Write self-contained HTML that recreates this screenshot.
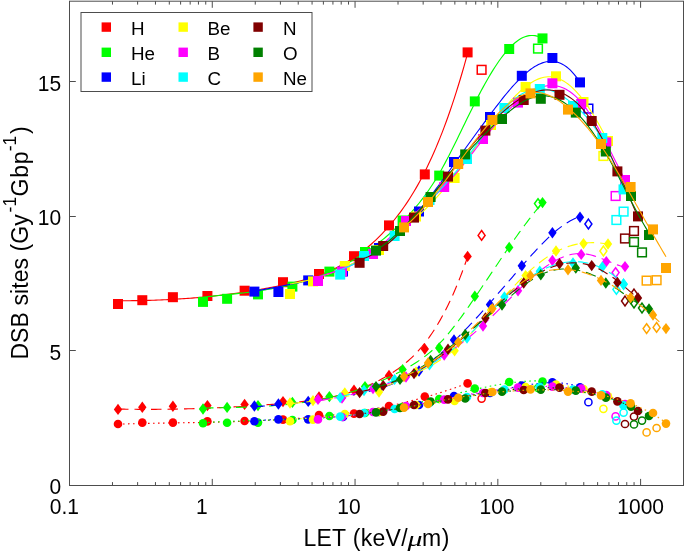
<!DOCTYPE html>
<html lang="en"><head><meta charset="utf-8"><title>DSB sites vs LET</title>
<style>html,body{margin:0;padding:0;background:#fff}svg{display:block}text{font-family:"Liberation Sans",Arial,Helvetica,sans-serif;fill:#000}</style></head><body>
<svg width="685" height="551" viewBox="0 0 685 551">
<rect width="685" height="551" fill="#fff"/>
<g id="plot">
<g id="ion-H">
<path d="M118,300.73 L120,300.74 L122,300.74 L124,300.73 L126,300.73 L128,300.72 L130,300.7 L132,300.68 L134,300.66 L136,300.63 L138,300.6 L140,300.57 L142,300.53 L144,300.49 L146,300.44 L148,300.39 L150,300.33 L152,300.27 L154,300.2 L156,300.13 L158,300.06 L160,299.98 L162,299.9 L164,299.81 L166,299.71 L168,299.62 L170,299.51 L172,299.41 L174,299.3 L176,299.18 L178,299.06 L180,298.93 L182,298.8 L184,298.66 L186,298.52 L188,298.38 L190,298.22 L192,298.07 L194,297.91 L196,297.74 L198,297.57 L200,297.39 L202,297.21 L204,297.02 L206,296.83 L208,296.63 L210,296.43 L212,296.22 L214,296 L216,295.78 L218,295.55 L220,295.32 L222,295.09 L224,294.84 L226,294.59 L228,294.34 L230,294.08 L232,293.81 L234,293.54 L236,293.27 L238,292.98 L240,292.69 L242,292.4 L244,292.1 L246,291.79 L248,291.47 L250,291.15 L252,290.83 L254,290.5 L256,290.16 L258,289.81 L260,289.46 L262,289.11 L264,288.74 L266,288.37 L268,288 L270,287.61 L272,287.22 L274,286.83 L276,286.43 L278,286.02 L280,285.6 L282,285.18 L284,284.75 L286,284.31 L288,283.87 L290,283.42 L292,282.95 L294,282.48 L296,281.99 L298,281.48 L300,280.97 L302,280.43 L304,279.88 L306,279.32 L308,278.73 L310,278.12 L312,277.49 L314,276.84 L316,276.17 L318,275.47 L320,274.75 L322,274 L324,273.22 L326,272.41 L328,271.58 L330,270.71 L332,269.81 L334,268.88 L336,267.91 L338,266.91 L340,265.87 L342,264.8 L344,263.68 L346,262.53 L348,261.34 L350,260.1 L352,258.83 L354,257.51 L356,256.14 L358,254.73 L360,253.27 L362,251.76 L364,250.21 L366,248.6 L368,246.95 L370,245.24 L372,243.48 L374,241.66 L376,239.79 L378,237.86 L380,235.87 L382,233.83 L384,231.72 L386,229.56 L388,227.33 L390,225.04 L392,222.68 L394,220.26 L396,217.76 L398,215.19 L400,212.54 L402,209.81 L404,206.99 L406,204.08 L408,201.09 L410,197.99 L412,194.8 L414,191.51 L416,188.11 L418,184.61 L420,180.99 L422,177.25 L424,173.4 L426,169.42 L428,165.33 L430,161.1 L432,156.74 L434,152.24 L436,147.61 L438,142.83 L440,137.91 L442,132.84 L444,127.62 L446,122.24 L448,116.7 L450,111.01 L452,105.14 L454,99.11 L456,92.91 L458,86.53 L460,79.97 L462,73.23 L464,66.31 L466,59.19 L467.6,53.36" fill="none" stroke="#ff0000" stroke-width="1.12"/>
<rect x="113" y="299" width="10" height="10" fill="#ff0000"/>
<rect x="137.3" y="295.2" width="10" height="10" fill="#ff0000"/>
<rect x="167.9" y="292.2" width="10" height="10" fill="#ff0000"/>
<rect x="202.4" y="291" width="10" height="10" fill="#ff0000"/>
<rect x="239.6" y="285.7" width="10" height="10" fill="#ff0000"/>
<rect x="278" y="277.2" width="10" height="10" fill="#ff0000"/>
<rect x="314" y="269" width="10" height="10" fill="#ff0000"/>
<rect x="349" y="251.2" width="10" height="10" fill="#ff0000"/>
<rect x="384" y="220.4" width="10" height="10" fill="#ff0000"/>
<rect x="419.8" y="169.4" width="10" height="10" fill="#ff0000"/>
<rect x="462.6" y="47.4" width="10" height="10" fill="#ff0000"/>
<rect x="477.25" y="65.45" width="8.7" height="8.7" fill="none" stroke="#ff0000" stroke-width="1.5"/>
<path d="M118,409.07 L120,409.1 L122,409.14 L124,409.17 L126,409.2 L128,409.23 L130,409.25 L132,409.27 L134,409.29 L136,409.3 L138,409.32 L140,409.33 L142,409.34 L144,409.34 L146,409.35 L148,409.35 L150,409.34 L152,409.34 L154,409.33 L156,409.32 L158,409.31 L160,409.29 L162,409.27 L164,409.25 L166,409.23 L168,409.2 L170,409.18 L172,409.15 L174,409.11 L176,409.08 L178,409.04 L180,409 L182,408.95 L184,408.91 L186,408.86 L188,408.81 L190,408.75 L192,408.7 L194,408.64 L196,408.57 L198,408.51 L200,408.44 L202,408.37 L204,408.3 L206,408.23 L208,408.15 L210,408.07 L212,407.99 L214,407.9 L216,407.82 L218,407.73 L220,407.64 L222,407.54 L224,407.44 L226,407.34 L228,407.24 L230,407.14 L232,407.03 L234,406.92 L236,406.81 L238,406.69 L240,406.58 L242,406.46 L244,406.33 L246,406.21 L248,406.08 L250,405.95 L252,405.82 L254,405.69 L256,405.55 L258,405.41 L260,405.27 L262,405.12 L264,404.98 L266,404.83 L268,404.68 L270,404.52 L272,404.36 L274,404.2 L276,404.04 L278,403.88 L280,403.71 L282,403.54 L284,403.37 L286,403.2 L288,403.02 L290,402.84 L292,402.65 L294,402.46 L296,402.26 L298,402.06 L300,401.85 L302,401.63 L304,401.4 L306,401.16 L308,400.91 L310,400.65 L312,400.38 L314,400.1 L316,399.81 L318,399.5 L320,399.18 L322,398.84 L324,398.49 L326,398.13 L328,397.74 L330,397.34 L332,396.93 L334,396.49 L336,396.04 L338,395.56 L340,395.07 L342,394.55 L344,394.01 L346,393.45 L348,392.87 L350,392.26 L352,391.63 L354,390.97 L356,390.29 L358,389.58 L360,388.85 L362,388.09 L364,387.3 L366,386.48 L368,385.63 L370,384.75 L372,383.84 L374,382.9 L376,381.93 L378,380.92 L380,379.88 L382,378.81 L384,377.7 L386,376.56 L388,375.38 L390,374.16 L392,372.9 L394,371.61 L396,370.26 L398,368.86 L400,367.41 L402,365.9 L404,364.32 L406,362.68 L408,360.96 L410,359.17 L412,357.3 L414,355.35 L416,353.3 L418,351.16 L420,348.93 L422,346.6 L424,344.16 L426,341.61 L428,338.95 L430,336.17 L432,333.27 L434,330.25 L436,327.1 L438,323.81 L440,320.38 L442,316.82 L444,313.1 L446,309.24 L448,305.23 L450,301.05 L452,296.71 L454,292.21 L456,287.54 L458,282.69 L460,277.66 L462,272.45 L464,267.05 L466,261.46 L467.6,256.85" fill="none" stroke="#ff0000" stroke-width="1.12" stroke-dasharray="10.5 6"/>
<path d="M118,403.7 L122.2,409.4 L118,415.1 L113.8,409.4 Z" fill="#ff0000"/>
<path d="M142.3,401.5 L146.5,407.2 L142.3,412.9 L138.1,407.2 Z" fill="#ff0000"/>
<path d="M172.9,400.5 L177.1,406.2 L172.9,411.9 L168.7,406.2 Z" fill="#ff0000"/>
<path d="M207.4,399.9 L211.6,405.6 L207.4,411.3 L203.2,405.6 Z" fill="#ff0000"/>
<path d="M244.6,398.7 L248.8,404.4 L244.6,410.1 L240.4,404.4 Z" fill="#ff0000"/>
<path d="M283,395.9 L287.2,401.6 L283,407.3 L278.8,401.6 Z" fill="#ff0000"/>
<path d="M319,391.3 L323.2,397 L319,402.7 L314.8,397 Z" fill="#ff0000"/>
<path d="M354,384.5 L358.2,390.2 L354,395.9 L349.8,390.2 Z" fill="#ff0000"/>
<path d="M389,369.7 L393.2,375.4 L389,381.1 L384.8,375.4 Z" fill="#ff0000"/>
<path d="M424.8,343.3 L429,349 L424.8,354.7 L420.6,349 Z" fill="#ff0000"/>
<path d="M467.6,250.7 L471.8,256.4 L467.6,262.1 L463.4,256.4 Z" fill="#ff0000"/>
<path d="M481.6,230.5 L485.1,235.4 L481.6,240.3 L478.1,235.4 Z" fill="none" stroke="#ff0000" stroke-width="1.5"/>
<path d="M118,424.16 L120,424.09 L122,424.03 L124,423.97 L126,423.91 L128,423.86 L130,423.8 L132,423.75 L134,423.7 L136,423.65 L138,423.6 L140,423.55 L142,423.51 L144,423.46 L146,423.42 L148,423.38 L150,423.34 L152,423.3 L154,423.26 L156,423.22 L158,423.18 L160,423.15 L162,423.11 L164,423.07 L166,423.04 L168,423 L170,422.97 L172,422.94 L174,422.9 L176,422.87 L178,422.84 L180,422.8 L182,422.77 L184,422.74 L186,422.7 L188,422.67 L190,422.64 L192,422.6 L194,422.57 L196,422.53 L198,422.49 L200,422.46 L202,422.42 L204,422.38 L206,422.34 L208,422.3 L210,422.26 L212,422.22 L214,422.18 L216,422.13 L218,422.09 L220,422.04 L222,421.99 L224,421.94 L226,421.89 L228,421.83 L230,421.78 L232,421.72 L234,421.66 L236,421.6 L238,421.54 L240,421.48 L242,421.41 L244,421.34 L246,421.27 L248,421.2 L250,421.12 L252,421.04 L254,420.96 L256,420.88 L258,420.79 L260,420.7 L262,420.61 L264,420.51 L266,420.42 L268,420.32 L270,420.21 L272,420.11 L274,420 L276,419.88 L278,419.77 L280,419.65 L282,419.52 L284,419.39 L286,419.26 L288,419.13 L290,418.99 L292,418.85 L294,418.7 L296,418.55 L298,418.4 L300,418.24 L302,418.08 L304,417.91 L306,417.74 L308,417.56 L310,417.38 L312,417.2 L314,417.01 L316,416.81 L318,416.61 L320,416.41 L322,416.2 L324,415.99 L326,415.77 L328,415.55 L330,415.32 L332,415.08 L334,414.85 L336,414.6 L338,414.35 L340,414.09 L342,413.83 L344,413.57 L346,413.29 L348,413.02 L350,412.73 L352,412.44 L354,412.15 L356,411.84 L358,411.53 L360,411.22 L362,410.9 L364,410.57 L366,410.24 L368,409.9 L370,409.55 L372,409.2 L374,408.84 L376,408.47 L378,408.1 L380,407.72 L382,407.33 L384,406.93 L386,406.53 L388,406.12 L390,405.71 L392,405.28 L394,404.85 L396,404.41 L398,403.97 L400,403.52 L402,403.05 L404,402.59 L406,402.11 L408,401.62 L410,401.13 L412,400.63 L414,400.12 L416,399.61 L418,399.08 L420,398.55 L422,398.01 L424,397.46 L426,396.9 L428,396.33 L430,395.75 L432,395.17 L434,394.58 L436,393.97 L438,393.36 L440,392.74 L442,392.11 L444,391.48 L446,390.83 L448,390.17 L450,389.51 L452,388.83 L454,388.15 L456,387.45 L458,386.75 L460,386.03 L462,385.31 L464,384.58 L466,383.83 L467.6,383.23" fill="none" stroke="#ff0000" stroke-width="1.12" stroke-dasharray="1.6 3.4"/>
<circle cx="118" cy="424" r="4.3" fill="#ff0000"/>
<circle cx="142.3" cy="422.6" r="4.3" fill="#ff0000"/>
<circle cx="172.9" cy="422.6" r="4.3" fill="#ff0000"/>
<circle cx="207.4" cy="421.4" r="4.3" fill="#ff0000"/>
<circle cx="244.6" cy="421" r="4.3" fill="#ff0000"/>
<circle cx="283" cy="419.6" r="4.3" fill="#ff0000"/>
<circle cx="319" cy="415" r="4.3" fill="#ff0000"/>
<circle cx="354" cy="413.6" r="4.3" fill="#ff0000"/>
<circle cx="389" cy="406" r="4.3" fill="#ff0000"/>
<circle cx="424.8" cy="396.6" r="4.3" fill="#ff0000"/>
<circle cx="467.6" cy="383.4" r="4.3" fill="#ff0000"/>
<circle cx="481.6" cy="398.6" r="3.6" fill="none" stroke="#ff0000" stroke-width="1.5"/>
</g>
<g id="ion-He">
<path d="M203,297.15 L205,296.94 L207,296.73 L209,296.53 L211,296.32 L213,296.12 L215,295.92 L217,295.72 L219,295.52 L221,295.32 L223,295.11 L225,294.91 L227,294.7 L229,294.49 L231,294.28 L233,294.07 L235,293.85 L237,293.63 L239,293.4 L241,293.17 L243,292.94 L245,292.7 L247,292.45 L249,292.2 L251,291.94 L253,291.67 L255,291.4 L257,291.11 L259,290.82 L261,290.52 L263,290.22 L265,289.9 L267,289.57 L269,289.23 L271,288.88 L273,288.52 L275,288.15 L277,287.76 L279,287.37 L281,286.96 L283,286.53 L285,286.1 L287,285.65 L289,285.18 L291,284.7 L293,284.2 L295,283.69 L297,283.17 L299,282.62 L301,282.06 L303,281.48 L305,280.89 L307,280.27 L309,279.64 L311,278.99 L313,278.32 L315,277.62 L317,276.91 L319,276.18 L321,275.43 L323,274.65 L325,273.86 L327,273.04 L329,272.19 L331,271.33 L333,270.44 L335,269.53 L337,268.59 L339,267.63 L341,266.64 L343,265.63 L345,264.59 L347,263.53 L349,262.44 L351,261.32 L353,260.17 L355,259 L357,257.8 L359,256.56 L361,255.3 L363,254.01 L365,252.69 L367,251.34 L369,249.96 L371,248.54 L373,247.1 L375,245.62 L377,244.11 L379,242.56 L381,240.98 L383,239.36 L385,237.71 L387,236.02 L389,234.29 L391,232.53 L393,230.73 L395,228.89 L397,227.01 L399,225.09 L401,223.13 L403,221.12 L405,219.08 L407,216.99 L409,214.85 L411,212.65 L413,210.4 L415,208.08 L417,205.7 L419,203.24 L421,200.71 L423,198.11 L425,195.41 L427,192.64 L429,189.77 L431,186.81 L433,183.75 L435,180.58 L437,177.31 L439,173.93 L441,170.43 L443,166.83 L445,163.13 L447,159.35 L449,155.49 L451,151.56 L453,147.57 L455,143.53 L457,139.46 L459,135.35 L461,131.23 L463,127.1 L465,122.97 L467,118.85 L469,114.75 L471,110.68 L473,106.65 L475,102.66 L477,98.74 L479,94.88 L481,91.09 L483,87.38 L485,83.74 L487,80.2 L489,76.74 L491,73.39 L493,70.13 L495,66.99 L497,63.96 L499,61.05 L501,58.27 L503,55.62 L505,53.1 L507,50.73 L509,48.51 L511,46.44 L513,44.53 L515,42.78 L517,41.21 L519,39.81 L521,38.6 L523,37.57 L525,36.73 L527,36.1 L529,35.66 L531,35.44 L533,35.44 L535,35.65 L537,36.09 L539,36.77 L541,37.68 L542.5,38.52" fill="none" stroke="#00ff00" stroke-width="1.12"/>
<rect x="198" y="296.9" width="10" height="10" fill="#00ff00"/>
<rect x="222.1" y="293.8" width="10" height="10" fill="#00ff00"/>
<rect x="253" y="289.4" width="10" height="10" fill="#00ff00"/>
<rect x="287.4" y="281.6" width="10" height="10" fill="#00ff00"/>
<rect x="324.4" y="266.6" width="10" height="10" fill="#00ff00"/>
<rect x="360" y="247" width="10" height="10" fill="#00ff00"/>
<rect x="397.6" y="215.5" width="10" height="10" fill="#00ff00"/>
<rect x="434.2" y="170.6" width="10" height="10" fill="#00ff00"/>
<rect x="469.8" y="96.4" width="10" height="10" fill="#00ff00"/>
<rect x="504.2" y="44" width="10" height="10" fill="#00ff00"/>
<rect x="537.5" y="33.4" width="10" height="10" fill="#00ff00"/>
<rect x="533.65" y="44.25" width="8.7" height="8.7" fill="none" stroke="#00ff00" stroke-width="1.5"/>
<path d="M203,408.05 L205,408.01 L207,407.98 L209,407.95 L211,407.92 L213,407.89 L215,407.86 L217,407.82 L219,407.79 L221,407.75 L223,407.72 L225,407.68 L227,407.64 L229,407.6 L231,407.56 L233,407.51 L235,407.46 L237,407.41 L239,407.36 L241,407.3 L243,407.23 L245,407.17 L247,407.1 L249,407.02 L251,406.95 L253,406.86 L255,406.77 L257,406.68 L259,406.58 L261,406.47 L263,406.36 L265,406.25 L267,406.12 L269,405.99 L271,405.85 L273,405.71 L275,405.56 L277,405.4 L279,405.23 L281,405.06 L283,404.87 L285,404.68 L287,404.48 L289,404.27 L291,404.05 L293,403.82 L295,403.59 L297,403.34 L299,403.08 L301,402.81 L303,402.53 L305,402.24 L307,401.94 L309,401.63 L311,401.31 L313,400.97 L315,400.62 L317,400.26 L319,399.89 L321,399.51 L323,399.11 L325,398.7 L327,398.28 L329,397.84 L331,397.39 L333,396.92 L335,396.44 L337,395.95 L339,395.44 L341,394.91 L343,394.37 L345,393.82 L347,393.25 L349,392.66 L351,392.06 L353,391.44 L355,390.81 L357,390.15 L359,389.49 L361,388.8 L363,388.09 L365,387.37 L367,386.63 L369,385.87 L371,385.1 L373,384.3 L375,383.49 L377,382.66 L379,381.81 L381,380.95 L383,380.06 L385,379.16 L387,378.24 L389,377.3 L391,376.34 L393,375.36 L395,374.37 L397,373.35 L399,372.32 L401,371.27 L403,370.2 L405,369.11 L407,368 L409,366.86 L411,365.69 L413,364.48 L415,363.24 L417,361.96 L419,360.63 L421,359.25 L423,357.82 L425,356.33 L427,354.78 L429,353.17 L431,351.49 L433,349.74 L435,347.91 L437,346 L439,344.01 L441,341.94 L443,339.78 L445,337.55 L447,335.24 L449,332.86 L451,330.41 L453,327.9 L455,325.33 L457,322.71 L459,320.03 L461,317.32 L463,314.56 L465,311.76 L467,308.93 L469,306.07 L471,303.18 L473,300.27 L475,297.35 L477,294.41 L479,291.46 L481,288.51 L483,285.54 L485,282.57 L487,279.59 L489,276.62 L491,273.64 L493,270.66 L495,267.69 L497,264.72 L499,261.76 L501,258.81 L503,255.87 L505,252.94 L507,250.03 L509,247.13 L511,244.25 L513,241.39 L515,238.55 L517,235.74 L519,232.95 L521,230.19 L523,227.45 L525,224.75 L527,222.08 L529,219.45 L531,216.85 L533,214.29 L535,211.76 L537,209.28 L539,206.85 L541,204.46 L542.5,202.7" fill="none" stroke="#00ff00" stroke-width="1.12" stroke-dasharray="10.5 6"/>
<path d="M203,403.3 L207.2,409 L203,414.7 L198.8,409 Z" fill="#00ff00"/>
<path d="M227.1,401.7 L231.3,407.4 L227.1,413.1 L222.9,407.4 Z" fill="#00ff00"/>
<path d="M258,399.9 L262.2,405.6 L258,411.3 L253.8,405.6 Z" fill="#00ff00"/>
<path d="M292.4,396.7 L296.6,402.4 L292.4,408.1 L288.2,402.4 Z" fill="#00ff00"/>
<path d="M329.4,390.9 L333.6,396.6 L329.4,402.3 L325.2,396.6 Z" fill="#00ff00"/>
<path d="M365,380.9 L369.2,386.6 L365,392.3 L360.8,386.6 Z" fill="#00ff00"/>
<path d="M402.6,363.9 L406.8,369.6 L402.6,375.3 L398.4,369.6 Z" fill="#00ff00"/>
<path d="M439.2,342.3 L443.4,348 L439.2,353.7 L435,348 Z" fill="#00ff00"/>
<path d="M474.8,290.6 L479,296.3 L474.8,302 L470.6,296.3 Z" fill="#00ff00"/>
<path d="M509.2,241.7 L513.4,247.4 L509.2,253.1 L505,247.4 Z" fill="#00ff00"/>
<path d="M542.5,196.9 L546.7,202.6 L542.5,208.3 L538.3,202.6 Z" fill="#00ff00"/>
<path d="M538,198.7 L541.5,203.6 L538,208.5 L534.5,203.6 Z" fill="none" stroke="#00ff00" stroke-width="1.5"/>
<path d="M203,422.79 L205,422.65 L207,422.51 L209,422.38 L211,422.26 L213,422.14 L215,422.03 L217,421.92 L219,421.81 L221,421.71 L223,421.62 L225,421.52 L227,421.43 L229,421.35 L231,421.27 L233,421.19 L235,421.12 L237,421.04 L239,420.97 L241,420.91 L243,420.84 L245,420.78 L247,420.72 L249,420.66 L251,420.6 L253,420.54 L255,420.49 L257,420.43 L259,420.38 L261,420.33 L263,420.27 L265,420.22 L267,420.17 L269,420.12 L271,420.06 L273,420.01 L275,419.95 L277,419.9 L279,419.84 L281,419.78 L283,419.72 L285,419.66 L287,419.59 L289,419.52 L291,419.46 L293,419.38 L295,419.31 L297,419.23 L299,419.15 L301,419.07 L303,418.98 L305,418.89 L307,418.79 L309,418.69 L311,418.59 L313,418.48 L315,418.37 L317,418.25 L319,418.13 L321,418 L323,417.86 L325,417.72 L327,417.58 L329,417.43 L331,417.27 L333,417.1 L335,416.93 L337,416.75 L339,416.57 L341,416.37 L343,416.17 L345,415.97 L347,415.75 L349,415.53 L351,415.29 L353,415.05 L355,414.81 L357,414.55 L359,414.28 L361,414 L363,413.72 L365,413.42 L367,413.12 L369,412.8 L371,412.48 L373,412.15 L375,411.8 L377,411.45 L379,411.1 L381,410.73 L383,410.36 L385,409.97 L387,409.59 L389,409.19 L391,408.79 L393,408.38 L395,407.96 L397,407.54 L399,407.12 L401,406.69 L403,406.25 L405,405.81 L407,405.36 L409,404.91 L411,404.46 L413,404 L415,403.54 L417,403.07 L419,402.61 L421,402.14 L423,401.66 L425,401.19 L427,400.71 L429,400.23 L431,399.75 L433,399.27 L435,398.79 L437,398.31 L439,397.83 L441,397.35 L443,396.86 L445,396.38 L447,395.9 L449,395.42 L451,394.94 L453,394.46 L455,393.99 L457,393.52 L459,393.04 L461,392.58 L463,392.11 L465,391.65 L467,391.19 L469,390.73 L471,390.28 L473,389.84 L475,389.39 L477,388.96 L479,388.52 L481,388.1 L483,387.68 L485,387.26 L487,386.86 L489,386.46 L491,386.07 L493,385.69 L495,385.32 L497,384.96 L499,384.61 L501,384.28 L503,383.95 L505,383.64 L507,383.34 L509,383.06 L511,382.79 L513,382.54 L515,382.3 L517,382.07 L519,381.87 L521,381.68 L523,381.51 L525,381.36 L527,381.22 L529,381.11 L531,381.01 L533,380.94 L535,380.89 L537,380.86 L539,380.85 L541,380.87 L542.5,380.9" fill="none" stroke="#00ff00" stroke-width="1.12" stroke-dasharray="1.6 3.4"/>
<circle cx="203" cy="423.2" r="4.3" fill="#00ff00"/>
<circle cx="227.1" cy="422.8" r="4.3" fill="#00ff00"/>
<circle cx="258" cy="422.6" r="4.3" fill="#00ff00"/>
<circle cx="292.4" cy="420" r="4.3" fill="#00ff00"/>
<circle cx="329.4" cy="416" r="4.3" fill="#00ff00"/>
<circle cx="365" cy="413" r="4.3" fill="#00ff00"/>
<circle cx="402.6" cy="407" r="4.3" fill="#00ff00"/>
<circle cx="439.2" cy="399" r="4.3" fill="#00ff00"/>
<circle cx="474.8" cy="388.6" r="4.3" fill="#00ff00"/>
<circle cx="509.2" cy="382" r="4.3" fill="#00ff00"/>
<circle cx="542.5" cy="381.6" r="4.3" fill="#00ff00"/>
<circle cx="538" cy="388" r="3.6" fill="none" stroke="#00ff00" stroke-width="1.5"/>
</g>
<g id="ion-Li">
<path d="M254.4,291.26 L256.4,290.88 L258.4,290.5 L260.4,290.13 L262.4,289.75 L264.4,289.38 L266.4,289.01 L268.4,288.63 L270.4,288.26 L272.4,287.88 L274.4,287.51 L276.4,287.13 L278.4,286.75 L280.4,286.36 L282.4,285.97 L284.4,285.57 L286.4,285.17 L288.4,284.76 L290.4,284.34 L292.4,283.91 L294.4,283.48 L296.4,283.03 L298.4,282.58 L300.4,282.12 L302.4,281.64 L304.4,281.15 L306.4,280.65 L308.4,280.13 L310.4,279.6 L312.4,279.06 L314.4,278.5 L316.4,277.92 L318.4,277.33 L320.4,276.72 L322.4,276.09 L324.4,275.44 L326.4,274.77 L328.4,274.09 L330.4,273.38 L332.4,272.65 L334.4,271.89 L336.4,271.12 L338.4,270.32 L340.4,269.49 L342.4,268.64 L344.4,267.77 L346.4,266.87 L348.4,265.94 L350.4,264.98 L352.4,264 L354.4,262.98 L356.4,261.94 L358.4,260.87 L360.4,259.76 L362.4,258.62 L364.4,257.45 L366.4,256.25 L368.4,255.02 L370.4,253.74 L372.4,252.44 L374.4,251.1 L376.4,249.72 L378.4,248.3 L380.4,246.85 L382.4,245.36 L384.4,243.82 L386.4,242.25 L388.4,240.64 L390.4,238.99 L392.4,237.29 L394.4,235.55 L396.4,233.77 L398.4,231.95 L400.4,230.08 L402.4,228.16 L404.4,226.2 L406.4,224.19 L408.4,222.14 L410.4,220.03 L412.4,217.88 L414.4,215.68 L416.4,213.43 L418.4,211.13 L420.4,208.77 L422.4,206.37 L424.4,203.92 L426.4,201.43 L428.4,198.89 L430.4,196.32 L432.4,193.72 L434.4,191.08 L436.4,188.42 L438.4,185.73 L440.4,183.01 L442.4,180.28 L444.4,177.53 L446.4,174.77 L448.4,172 L450.4,169.22 L452.4,166.44 L454.4,163.66 L456.4,160.87 L458.4,158.09 L460.4,155.31 L462.4,152.54 L464.4,149.77 L466.4,147 L468.4,144.24 L470.4,141.48 L472.4,138.73 L474.4,135.99 L476.4,133.25 L478.4,130.52 L480.4,127.8 L482.4,125.08 L484.4,122.38 L486.4,119.68 L488.4,117 L490.4,114.32 L492.4,111.66 L494.4,109.01 L496.4,106.39 L498.4,103.79 L500.4,101.23 L502.4,98.69 L504.4,96.2 L506.4,93.76 L508.4,91.36 L510.4,89.01 L512.4,86.73 L514.4,84.5 L516.4,82.35 L518.4,80.27 L520.4,78.26 L522.4,76.34 L524.4,74.5 L526.4,72.76 L528.4,71.11 L530.4,69.57 L532.4,68.14 L534.4,66.83 L536.4,65.64 L538.4,64.58 L540.4,63.66 L542.4,62.88 L544.4,62.24 L546.4,61.76 L548.4,61.44 L550.4,61.28 L552.4,61.3 L554.4,61.49 L556.4,61.87 L558.4,62.44 L560.4,63.21 L562.4,64.18 L564.4,65.35 L566.4,66.74 L568.4,68.36 L570.4,70.19 L572.4,72.27 L574.4,74.58 L576.4,77.14 L578.4,79.95 L580,82.38" fill="none" stroke="#0000ff" stroke-width="1.12"/>
<rect x="249.4" y="286.6" width="10" height="10" fill="#0000ff"/>
<rect x="273.4" y="287" width="10" height="10" fill="#0000ff"/>
<rect x="303.2" y="275.4" width="10" height="10" fill="#0000ff"/>
<rect x="338" y="266.5" width="10" height="10" fill="#0000ff"/>
<rect x="374" y="243" width="10" height="10" fill="#0000ff"/>
<rect x="414" y="206.5" width="10" height="10" fill="#0000ff"/>
<rect x="449" y="157" width="10" height="10" fill="#0000ff"/>
<rect x="485" y="112" width="10" height="10" fill="#0000ff"/>
<rect x="516.8" y="70.8" width="10" height="10" fill="#0000ff"/>
<rect x="547.4" y="53" width="10" height="10" fill="#0000ff"/>
<rect x="575" y="77.4" width="10" height="10" fill="#0000ff"/>
<rect x="584.05" y="104.25" width="8.7" height="8.7" fill="none" stroke="#0000ff" stroke-width="1.5"/>
<path d="M254.4,406.74 L256.4,406.61 L258.4,406.47 L260.4,406.33 L262.4,406.18 L264.4,406.03 L266.4,405.88 L268.4,405.72 L270.4,405.56 L272.4,405.39 L274.4,405.22 L276.4,405.04 L278.4,404.87 L280.4,404.68 L282.4,404.5 L284.4,404.3 L286.4,404.11 L288.4,403.91 L290.4,403.7 L292.4,403.5 L294.4,403.28 L296.4,403.06 L298.4,402.84 L300.4,402.61 L302.4,402.38 L304.4,402.14 L306.4,401.9 L308.4,401.66 L310.4,401.41 L312.4,401.15 L314.4,400.89 L316.4,400.62 L318.4,400.35 L320.4,400.08 L322.4,399.79 L324.4,399.51 L326.4,399.22 L328.4,398.92 L330.4,398.62 L332.4,398.31 L334.4,398 L336.4,397.68 L338.4,397.36 L340.4,397.03 L342.4,396.69 L344.4,396.35 L346.4,396.01 L348.4,395.65 L350.4,395.29 L352.4,394.92 L354.4,394.54 L356.4,394.14 L358.4,393.74 L360.4,393.32 L362.4,392.88 L364.4,392.43 L366.4,391.96 L368.4,391.48 L370.4,390.97 L372.4,390.45 L374.4,389.91 L376.4,389.34 L378.4,388.75 L380.4,388.14 L382.4,387.5 L384.4,386.83 L386.4,386.14 L388.4,385.42 L390.4,384.67 L392.4,383.89 L394.4,383.08 L396.4,382.24 L398.4,381.36 L400.4,380.45 L402.4,379.5 L404.4,378.51 L406.4,377.49 L408.4,376.43 L410.4,375.33 L412.4,374.19 L414.4,373.01 L416.4,371.78 L418.4,370.51 L420.4,369.2 L422.4,367.84 L424.4,366.44 L426.4,364.99 L428.4,363.5 L430.4,361.98 L432.4,360.41 L434.4,358.81 L436.4,357.16 L438.4,355.48 L440.4,353.77 L442.4,352.02 L444.4,350.24 L446.4,348.42 L448.4,346.58 L450.4,344.7 L452.4,342.79 L454.4,340.86 L456.4,338.9 L458.4,336.91 L460.4,334.9 L462.4,332.86 L464.4,330.8 L466.4,328.72 L468.4,326.61 L470.4,324.49 L472.4,322.34 L474.4,320.18 L476.4,318 L478.4,315.81 L480.4,313.6 L482.4,311.37 L484.4,309.14 L486.4,306.89 L488.4,304.63 L490.4,302.36 L492.4,300.08 L494.4,297.79 L496.4,295.5 L498.4,293.2 L500.4,290.89 L502.4,288.58 L504.4,286.27 L506.4,283.95 L508.4,281.64 L510.4,279.32 L512.4,277.01 L514.4,274.7 L516.4,272.39 L518.4,270.08 L520.4,267.78 L522.4,265.49 L524.4,263.21 L526.4,260.93 L528.4,258.67 L530.4,256.43 L532.4,254.21 L534.4,252.02 L536.4,249.86 L538.4,247.72 L540.4,245.63 L542.4,243.57 L544.4,241.55 L546.4,239.58 L548.4,237.66 L550.4,235.79 L552.4,233.98 L554.4,232.23 L556.4,230.54 L558.4,228.91 L560.4,227.36 L562.4,225.88 L564.4,224.48 L566.4,223.15 L568.4,221.91 L570.4,220.76 L572.4,219.7 L574.4,218.73 L576.4,217.86 L578.4,217.09 L580,216.55" fill="none" stroke="#0000ff" stroke-width="1.12" stroke-dasharray="10.5 6"/>
<path d="M254.4,400.3 L258.6,406 L254.4,411.7 L250.2,406 Z" fill="#0000ff"/>
<path d="M278.4,398.3 L282.6,404 L278.4,409.7 L274.2,404 Z" fill="#0000ff"/>
<path d="M308.2,395.7 L312.4,401.4 L308.2,407.1 L304,401.4 Z" fill="#0000ff"/>
<path d="M343,390.3 L347.2,396 L343,401.7 L338.8,396 Z" fill="#0000ff"/>
<path d="M379,383.3 L383.2,389 L379,394.7 L374.8,389 Z" fill="#0000ff"/>
<path d="M419,365.3 L423.2,371 L419,376.7 L414.8,371 Z" fill="#0000ff"/>
<path d="M454,334.3 L458.2,340 L454,345.7 L449.8,340 Z" fill="#0000ff"/>
<path d="M490,298.9 L494.2,304.6 L490,310.3 L485.8,304.6 Z" fill="#0000ff"/>
<path d="M521.8,260.1 L526,265.8 L521.8,271.5 L517.6,265.8 Z" fill="#0000ff"/>
<path d="M552.4,227.1 L556.6,232.8 L552.4,238.5 L548.2,232.8 Z" fill="#0000ff"/>
<path d="M580,211.5 L584.2,217.2 L580,222.9 L575.8,217.2 Z" fill="#0000ff"/>
<path d="M588.4,219.1 L591.9,224 L588.4,228.9 L584.9,224 Z" fill="none" stroke="#0000ff" stroke-width="1.5"/>
<path d="M254.4,420.76 L256.4,420.61 L258.4,420.47 L260.4,420.34 L262.4,420.21 L264.4,420.09 L266.4,419.98 L268.4,419.87 L270.4,419.76 L272.4,419.66 L274.4,419.57 L276.4,419.48 L278.4,419.39 L280.4,419.3 L282.4,419.22 L284.4,419.14 L286.4,419.06 L288.4,418.99 L290.4,418.91 L292.4,418.84 L294.4,418.76 L296.4,418.69 L298.4,418.62 L300.4,418.54 L302.4,418.47 L304.4,418.39 L306.4,418.31 L308.4,418.23 L310.4,418.15 L312.4,418.06 L314.4,417.97 L316.4,417.88 L318.4,417.78 L320.4,417.68 L322.4,417.58 L324.4,417.47 L326.4,417.35 L328.4,417.23 L330.4,417.1 L332.4,416.97 L334.4,416.83 L336.4,416.68 L338.4,416.52 L340.4,416.36 L342.4,416.19 L344.4,416 L346.4,415.81 L348.4,415.62 L350.4,415.41 L352.4,415.19 L354.4,414.97 L356.4,414.74 L358.4,414.5 L360.4,414.25 L362.4,414 L364.4,413.74 L366.4,413.47 L368.4,413.2 L370.4,412.91 L372.4,412.62 L374.4,412.33 L376.4,412.03 L378.4,411.72 L380.4,411.41 L382.4,411.09 L384.4,410.76 L386.4,410.43 L388.4,410.1 L390.4,409.75 L392.4,409.41 L394.4,409.06 L396.4,408.7 L398.4,408.34 L400.4,407.98 L402.4,407.61 L404.4,407.24 L406.4,406.86 L408.4,406.48 L410.4,406.1 L412.4,405.71 L414.4,405.32 L416.4,404.93 L418.4,404.53 L420.4,404.13 L422.4,403.73 L424.4,403.33 L426.4,402.93 L428.4,402.52 L430.4,402.12 L432.4,401.71 L434.4,401.31 L436.4,400.91 L438.4,400.51 L440.4,400.12 L442.4,399.73 L444.4,399.34 L446.4,398.96 L448.4,398.58 L450.4,398.21 L452.4,397.85 L454.4,397.49 L456.4,397.14 L458.4,396.8 L460.4,396.46 L462.4,396.13 L464.4,395.8 L466.4,395.48 L468.4,395.16 L470.4,394.84 L472.4,394.52 L474.4,394.2 L476.4,393.88 L478.4,393.57 L480.4,393.24 L482.4,392.92 L484.4,392.59 L486.4,392.26 L488.4,391.92 L490.4,391.58 L492.4,391.23 L494.4,390.88 L496.4,390.52 L498.4,390.16 L500.4,389.79 L502.4,389.42 L504.4,389.05 L506.4,388.68 L508.4,388.31 L510.4,387.94 L512.4,387.57 L514.4,387.2 L516.4,386.84 L518.4,386.48 L520.4,386.13 L522.4,385.78 L524.4,385.44 L526.4,385.11 L528.4,384.79 L530.4,384.48 L532.4,384.19 L534.4,383.91 L536.4,383.66 L538.4,383.43 L540.4,383.22 L542.4,383.03 L544.4,382.88 L546.4,382.76 L548.4,382.67 L550.4,382.61 L552.4,382.59 L554.4,382.61 L556.4,382.67 L558.4,382.78 L560.4,382.93 L562.4,383.13 L564.4,383.37 L566.4,383.67 L568.4,384.03 L570.4,384.44 L572.4,384.91 L574.4,385.44 L576.4,386.03 L578.4,386.68 L580,387.26" fill="none" stroke="#0000ff" stroke-width="1.12" stroke-dasharray="1.6 3.4"/>
<circle cx="254.4" cy="421.2" r="4.3" fill="#0000ff"/>
<circle cx="278.4" cy="419.4" r="4.3" fill="#0000ff"/>
<circle cx="308.2" cy="419.4" r="4.3" fill="#0000ff"/>
<circle cx="343" cy="417" r="4.3" fill="#0000ff"/>
<circle cx="379" cy="412" r="4.3" fill="#0000ff"/>
<circle cx="419" cy="405" r="4.3" fill="#0000ff"/>
<circle cx="454" cy="396" r="4.3" fill="#0000ff"/>
<circle cx="490" cy="393" r="4.3" fill="#0000ff"/>
<circle cx="521.8" cy="385.6" r="4.3" fill="#0000ff"/>
<circle cx="552.4" cy="382.3" r="4.3" fill="#0000ff"/>
<circle cx="580" cy="387.4" r="4.3" fill="#0000ff"/>
<circle cx="588.4" cy="402.2" r="3.6" fill="none" stroke="#0000ff" stroke-width="1.5"/>
</g>
<g id="ion-Be">
<path d="M290,284.07 L292,283.7 L294,283.32 L296,282.92 L298,282.51 L300,282.08 L302,281.63 L304,281.16 L306,280.68 L308,280.18 L310,279.67 L312,279.13 L314,278.58 L316,278 L318,277.41 L320,276.8 L322,276.17 L324,275.51 L326,274.84 L328,274.14 L330,273.43 L332,272.69 L334,271.93 L336,271.15 L338,270.34 L340,269.51 L342,268.66 L344,267.78 L346,266.88 L348,265.96 L350,265.01 L352,264.03 L354,263.03 L356,262.01 L358,260.95 L360,259.87 L362,258.76 L364,257.63 L366,256.47 L368,255.28 L370,254.06 L372,252.81 L374,251.53 L376,250.23 L378,248.89 L380,247.53 L382,246.13 L384,244.7 L386,243.25 L388,241.76 L390,240.25 L392,238.71 L394,237.14 L396,235.54 L398,233.92 L400,232.27 L402,230.59 L404,228.89 L406,227.16 L408,225.41 L410,223.63 L412,221.82 L414,220 L416,218.15 L418,216.27 L420,214.38 L422,212.45 L424,210.5 L426,208.52 L428,206.51 L430,204.47 L432,202.4 L434,200.29 L436,198.14 L438,195.96 L440,193.74 L442,191.49 L444,189.19 L446,186.84 L448,184.46 L450,182.03 L452,179.55 L454,177.02 L456,174.45 L458,171.83 L460,169.16 L462,166.46 L464,163.73 L466,160.96 L468,158.17 L470,155.37 L472,152.54 L474,149.7 L476,146.86 L478,144.01 L480,141.17 L482,138.33 L484,135.5 L486,132.69 L488,129.9 L490,127.13 L492,124.38 L494,121.67 L496,119 L498,116.37 L500,113.78 L502,111.25 L504,108.76 L506,106.34 L508,103.98 L510,101.69 L512,99.47 L514,97.32 L516,95.26 L518,93.28 L520,91.39 L522,89.6 L524,87.9 L526,86.31 L528,84.82 L530,83.44 L532,82.18 L534,81.04 L536,80.03 L538,79.14 L540,78.39 L542,77.78 L544,77.3 L546,76.98 L548,76.8 L550,76.78 L552,76.92 L554,77.23 L556,77.7 L558,78.35 L560,79.16 L562,80.14 L564,81.29 L566,82.59 L568,84.05 L570,85.67 L572,87.44 L574,89.35 L576,91.42 L578,93.62 L580,95.96 L582,98.44 L584,101.05 L586,103.79 L588,106.65 L590,109.64 L592,112.75 L594,115.98 L596,119.32 L598,122.77 L600,126.33 L602,129.99 L604,133.75 L606,137.61 L608,141.57" fill="none" stroke="#ffff00" stroke-width="1.12"/>
<rect x="285" y="289" width="10" height="10" fill="#ffff00"/>
<rect x="308" y="276.4" width="10" height="10" fill="#ffff00"/>
<rect x="339.8" y="261" width="10" height="10" fill="#ffff00"/>
<rect x="374" y="245" width="10" height="10" fill="#ffff00"/>
<rect x="411" y="211.5" width="10" height="10" fill="#ffff00"/>
<rect x="449.6" y="173" width="10" height="10" fill="#ffff00"/>
<rect x="486" y="120" width="10" height="10" fill="#ffff00"/>
<rect x="520.6" y="82" width="10" height="10" fill="#ffff00"/>
<rect x="551" y="71.3" width="10" height="10" fill="#ffff00"/>
<rect x="578.5" y="97" width="10" height="10" fill="#ffff00"/>
<rect x="603" y="136" width="10" height="10" fill="#ffff00"/>
<rect x="599.05" y="151.65" width="8.7" height="8.7" fill="none" stroke="#ffff00" stroke-width="1.5"/>
<path d="M290,403.9 L292,403.65 L294,403.4 L296,403.16 L298,402.92 L300,402.68 L302,402.45 L304,402.21 L306,401.98 L308,401.74 L310,401.51 L312,401.27 L314,401.03 L316,400.78 L318,400.54 L320,400.29 L322,400.03 L324,399.77 L326,399.5 L328,399.23 L330,398.95 L332,398.67 L334,398.37 L336,398.07 L338,397.75 L340,397.43 L342,397.1 L344,396.75 L346,396.4 L348,396.03 L350,395.65 L352,395.25 L354,394.84 L356,394.42 L358,393.98 L360,393.53 L362,393.06 L364,392.57 L366,392.06 L368,391.54 L370,391 L372,390.44 L374,389.85 L376,389.25 L378,388.63 L380,387.98 L382,387.32 L384,386.63 L386,385.92 L388,385.19 L390,384.44 L392,383.68 L394,382.89 L396,382.09 L398,381.27 L400,380.44 L402,379.59 L404,378.72 L406,377.84 L408,376.95 L410,376.04 L412,375.12 L414,374.19 L416,373.24 L418,372.29 L420,371.32 L422,370.33 L424,369.33 L426,368.3 L428,367.25 L430,366.17 L432,365.05 L434,363.91 L436,362.72 L438,361.5 L440,360.23 L442,358.92 L444,357.55 L446,356.14 L448,354.67 L450,353.14 L452,351.55 L454,349.9 L456,348.18 L458,346.4 L460,344.56 L462,342.66 L464,340.7 L466,338.7 L468,336.66 L470,334.57 L472,332.45 L474,330.29 L476,328.11 L478,325.9 L480,323.67 L482,321.43 L484,319.17 L486,316.91 L488,314.64 L490,312.37 L492,310.11 L494,307.85 L496,305.6 L498,303.36 L500,301.14 L502,298.93 L504,296.73 L506,294.56 L508,292.4 L510,290.27 L512,288.16 L514,286.08 L516,284.03 L518,282 L520,280.01 L522,278.05 L524,276.13 L526,274.25 L528,272.4 L530,270.6 L532,268.84 L534,267.12 L536,265.46 L538,263.84 L540,262.27 L542,260.76 L544,259.3 L546,257.89 L548,256.55 L550,255.26 L552,254.04 L554,252.88 L556,251.78 L558,250.76 L560,249.8 L562,248.9 L564,248.07 L566,247.3 L568,246.6 L570,245.95 L572,245.37 L574,244.85 L576,244.38 L578,243.98 L580,243.63 L582,243.33 L584,243.09 L586,242.91 L588,242.77 L590,242.69 L592,242.66 L594,242.68 L596,242.75 L598,242.86 L600,243.02 L602,243.23 L604,243.48 L606,243.78 L608,244.12" fill="none" stroke="#ffff00" stroke-width="1.12" stroke-dasharray="10.5 6"/>
<path d="M290,397.3 L294.2,403 L290,408.7 L285.8,403 Z" fill="#ffff00"/>
<path d="M313,394.9 L317.2,400.6 L313,406.3 L308.8,400.6 Z" fill="#ffff00"/>
<path d="M344.8,387.3 L349,393 L344.8,398.7 L340.6,393 Z" fill="#ffff00"/>
<path d="M379,386.3 L383.2,392 L379,397.7 L374.8,392 Z" fill="#ffff00"/>
<path d="M416,366.3 L420.2,372 L416,377.7 L411.8,372 Z" fill="#ffff00"/>
<path d="M454.6,345.1 L458.8,350.8 L454.6,356.5 L450.4,350.8 Z" fill="#ffff00"/>
<path d="M491,304.3 L495.2,310 L491,315.7 L486.8,310 Z" fill="#ffff00"/>
<path d="M525.6,269.9 L529.8,275.6 L525.6,281.3 L521.4,275.6 Z" fill="#ffff00"/>
<path d="M556,245.3 L560.2,251 L556,256.7 L551.8,251 Z" fill="#ffff00"/>
<path d="M583.5,237.9 L587.7,243.6 L583.5,249.3 L579.3,243.6 Z" fill="#ffff00"/>
<path d="M608,238.3 L612.2,244 L608,249.7 L603.8,244 Z" fill="#ffff00"/>
<path d="M603.4,246.1 L606.9,251 L603.4,255.9 L599.9,251 Z" fill="none" stroke="#ffff00" stroke-width="1.5"/>
<path d="M290,419.01 L292,418.95 L294,418.89 L296,418.82 L298,418.74 L300,418.66 L302,418.57 L304,418.48 L306,418.38 L308,418.27 L310,418.16 L312,418.05 L314,417.93 L316,417.8 L318,417.67 L320,417.53 L322,417.39 L324,417.25 L326,417.1 L328,416.94 L330,416.78 L332,416.62 L334,416.45 L336,416.28 L338,416.1 L340,415.92 L342,415.73 L344,415.54 L346,415.35 L348,415.15 L350,414.94 L352,414.74 L354,414.53 L356,414.32 L358,414.1 L360,413.88 L362,413.65 L364,413.43 L366,413.2 L368,412.96 L370,412.73 L372,412.49 L374,412.24 L376,412 L378,411.75 L380,411.5 L382,411.24 L384,410.98 L386,410.72 L388,410.46 L390,410.19 L392,409.93 L394,409.65 L396,409.38 L398,409.1 L400,408.82 L402,408.53 L404,408.24 L406,407.95 L408,407.66 L410,407.36 L412,407.05 L414,406.75 L416,406.44 L418,406.12 L420,405.81 L422,405.48 L424,405.16 L426,404.83 L428,404.5 L430,404.16 L432,403.82 L434,403.47 L436,403.12 L438,402.77 L440,402.41 L442,402.04 L444,401.68 L446,401.3 L448,400.93 L450,400.55 L452,400.16 L454,399.77 L456,399.37 L458,398.97 L460,398.57 L462,398.16 L464,397.75 L466,397.34 L468,396.93 L470,396.51 L472,396.1 L474,395.68 L476,395.26 L478,394.85 L480,394.44 L482,394.03 L484,393.62 L486,393.21 L488,392.81 L490,392.42 L492,392.02 L494,391.64 L496,391.26 L498,390.88 L500,390.52 L502,390.16 L504,389.81 L506,389.47 L508,389.13 L510,388.81 L512,388.5 L514,388.19 L516,387.9 L518,387.63 L520,387.36 L522,387.11 L524,386.87 L526,386.64 L528,386.43 L530,386.24 L532,386.06 L534,385.89 L536,385.75 L538,385.62 L540,385.51 L542,385.42 L544,385.34 L546,385.29 L548,385.26 L550,385.25 L552,385.25 L554,385.29 L556,385.34 L558,385.42 L560,385.51 L562,385.64 L564,385.79 L566,385.96 L568,386.16 L570,386.38 L572,386.64 L574,386.92 L576,387.22 L578,387.56 L580,387.92 L582,388.32 L584,388.74 L586,389.2 L588,389.68 L590,390.2 L592,390.75 L594,391.33 L596,391.95 L598,392.6 L600,393.28 L602,394 L604,394.76 L606,395.55 L608,396.37" fill="none" stroke="#ffff00" stroke-width="1.12" stroke-dasharray="1.6 3.4"/>
<circle cx="290" cy="421.2" r="4.3" fill="#ffff00"/>
<circle cx="313" cy="419.6" r="4.3" fill="#ffff00"/>
<circle cx="344.8" cy="414" r="4.3" fill="#ffff00"/>
<circle cx="379" cy="412" r="4.3" fill="#ffff00"/>
<circle cx="416" cy="405" r="4.3" fill="#ffff00"/>
<circle cx="454.6" cy="401" r="4.3" fill="#ffff00"/>
<circle cx="491" cy="392" r="4.3" fill="#ffff00"/>
<circle cx="525.6" cy="387" r="4.3" fill="#ffff00"/>
<circle cx="556" cy="384.5" r="4.3" fill="#ffff00"/>
<circle cx="583.5" cy="389" r="4.3" fill="#ffff00"/>
<circle cx="608" cy="396.4" r="4.3" fill="#ffff00"/>
<circle cx="603.4" cy="408.8" r="3.6" fill="none" stroke="#ffff00" stroke-width="1.5"/>
</g>
<g id="ion-B">
<path d="M318,277 L320,276.34 L322,275.7 L324,275.06 L326,274.43 L328,273.8 L330,273.16 L332,272.52 L334,271.87 L336,271.21 L338,270.53 L340,269.83 L342,269.11 L344,268.36 L346,267.58 L348,266.77 L350,265.93 L352,265.04 L354,264.11 L356,263.13 L358,262.11 L360,261.03 L362,259.89 L364,258.7 L366,257.44 L368,256.12 L370,254.73 L372,253.26 L374,251.72 L376,250.1 L378,248.42 L380,246.67 L382,244.87 L384,243.03 L386,241.14 L388,239.23 L390,237.28 L392,235.32 L394,233.34 L396,231.36 L398,229.38 L400,227.41 L402,225.45 L404,223.52 L406,221.62 L408,219.75 L410,217.91 L412,216.1 L414,214.31 L416,212.53 L418,210.77 L420,209.02 L422,207.26 L424,205.51 L426,203.74 L428,201.97 L430,200.17 L432,198.35 L434,196.51 L436,194.63 L438,192.72 L440,190.76 L442,188.76 L444,186.7 L446,184.59 L448,182.43 L450,180.21 L452,177.95 L454,175.65 L456,173.3 L458,170.92 L460,168.51 L462,166.07 L464,163.61 L466,161.12 L468,158.62 L470,156.11 L472,153.58 L474,151.05 L476,148.52 L478,145.99 L480,143.46 L482,140.94 L484,138.44 L486,135.95 L488,133.48 L490,131.04 L492,128.62 L494,126.23 L496,123.87 L498,121.55 L500,119.27 L502,117.04 L504,114.85 L506,112.71 L508,110.63 L510,108.6 L512,106.64 L514,104.74 L516,102.91 L518,101.15 L520,99.46 L522,97.85 L524,96.33 L526,94.89 L528,93.53 L530,92.28 L532,91.11 L534,90.05 L536,89.08 L538,88.23 L540,87.48 L542,86.85 L544,86.33 L546,85.93 L548,85.66 L550,85.51 L552,85.49 L554,85.61 L556,85.86 L558,86.25 L560,86.79 L562,87.47 L564,88.31 L566,89.3 L568,90.45 L570,91.76 L572,93.23 L574,94.87 L576,96.69 L578,98.67 L580,100.84 L582,103.19 L584,105.72 L586,108.42 L588,111.27 L590,114.28 L592,117.42 L594,120.69 L596,124.08 L598,127.58 L600,131.17 L602,134.85 L604,138.6 L606,142.42 L608,146.3 L610,150.21 L612,154.17 L614,158.14 L616,162.13 L618,166.12 L620,170.1 L622,174.07 L624,178 L625,179.96" fill="none" stroke="#ff00ff" stroke-width="1.12"/>
<rect x="313" y="276" width="10" height="10" fill="#ff00ff"/>
<rect x="337" y="266.6" width="10" height="10" fill="#ff00ff"/>
<rect x="368" y="249" width="10" height="10" fill="#ff00ff"/>
<rect x="401" y="216" width="10" height="10" fill="#ff00ff"/>
<rect x="439.2" y="182" width="10" height="10" fill="#ff00ff"/>
<rect x="478" y="134" width="10" height="10" fill="#ff00ff"/>
<rect x="513" y="97.6" width="10" height="10" fill="#ff00ff"/>
<rect x="547.4" y="78.3" width="10" height="10" fill="#ff00ff"/>
<rect x="576.2" y="99" width="10" height="10" fill="#ff00ff"/>
<rect x="601.3" y="137.4" width="10" height="10" fill="#ff00ff"/>
<rect x="620" y="175" width="10" height="10" fill="#ff00ff"/>
<rect x="611.25" y="191.65" width="8.7" height="8.7" fill="none" stroke="#ff00ff" stroke-width="1.5"/>
<path d="M318,400.83 L320,400.52 L322,400.2 L324,399.87 L326,399.53 L328,399.19 L330,398.84 L332,398.48 L334,398.11 L336,397.73 L338,397.34 L340,396.94 L342,396.54 L344,396.12 L346,395.69 L348,395.25 L350,394.8 L352,394.33 L354,393.86 L356,393.37 L358,392.87 L360,392.36 L362,391.84 L364,391.3 L366,390.75 L368,390.18 L370,389.6 L372,389.01 L374,388.4 L376,387.78 L378,387.14 L380,386.49 L382,385.82 L384,385.13 L386,384.43 L388,383.71 L390,382.98 L392,382.23 L394,381.46 L396,380.67 L398,379.86 L400,379.04 L402,378.2 L404,377.33 L406,376.45 L408,375.55 L410,374.63 L412,373.69 L414,372.73 L416,371.75 L418,370.75 L420,369.73 L422,368.68 L424,367.62 L426,366.53 L428,365.42 L430,364.29 L432,363.13 L434,361.95 L436,360.75 L438,359.53 L440,358.28 L442,357 L444,355.7 L446,354.38 L448,353.03 L450,351.66 L452,350.26 L454,348.83 L456,347.38 L458,345.9 L460,344.4 L462,342.87 L464,341.31 L466,339.72 L468,338.1 L470,336.46 L472,334.79 L474,333.09 L476,331.36 L478,329.6 L480,327.81 L482,325.99 L484,324.14 L486,322.26 L488,320.36 L490,318.43 L492,316.49 L494,314.52 L496,312.54 L498,310.55 L500,308.55 L502,306.54 L504,304.53 L506,302.52 L508,300.51 L510,298.5 L512,296.51 L514,294.52 L516,292.55 L518,290.59 L520,288.66 L522,286.74 L524,284.85 L526,282.99 L528,281.16 L530,279.36 L532,277.6 L534,275.88 L536,274.19 L538,272.56 L540,270.97 L542,269.43 L544,267.94 L546,266.51 L548,265.14 L550,263.83 L552,262.59 L554,261.41 L556,260.31 L558,259.27 L560,258.31 L562,257.43 L564,256.63 L566,255.92 L568,255.29 L570,254.76 L572,254.31 L574,253.96 L576,253.71 L578,253.57 L580,253.52 L582,253.58 L584,253.75 L586,254.02 L588,254.37 L590,254.81 L592,255.32 L594,255.89 L596,256.53 L598,257.22 L600,257.94 L602,258.71 L604,259.5 L606,260.3 L608,261.12 L610,261.95 L612,262.77 L614,263.57 L616,264.36 L618,265.12 L620,265.84 L622,266.51 L624,267.14 L625,267.43" fill="none" stroke="#ff00ff" stroke-width="1.12" stroke-dasharray="10.5 6"/>
<path d="M318,393.7 L322.2,399.4 L318,405.1 L313.8,399.4 Z" fill="#ff00ff"/>
<path d="M342,392.3 L346.2,398 L342,403.7 L337.8,398 Z" fill="#ff00ff"/>
<path d="M373,382.9 L377.2,388.6 L373,394.3 L368.8,388.6 Z" fill="#ff00ff"/>
<path d="M406,371.3 L410.2,377 L406,382.7 L401.8,377 Z" fill="#ff00ff"/>
<path d="M444.2,349.3 L448.4,355 L444.2,360.7 L440,355 Z" fill="#ff00ff"/>
<path d="M483,320.3 L487.2,326 L483,331.7 L478.8,326 Z" fill="#ff00ff"/>
<path d="M518,285 L522.2,290.7 L518,296.4 L513.8,290.7 Z" fill="#ff00ff"/>
<path d="M552.4,254.8 L556.6,260.5 L552.4,266.2 L548.2,260.5 Z" fill="#ff00ff"/>
<path d="M581.2,248.7 L585.4,254.4 L581.2,260.1 L577,254.4 Z" fill="#ff00ff"/>
<path d="M606.3,255.9 L610.5,261.6 L606.3,267.3 L602.1,261.6 Z" fill="#ff00ff"/>
<path d="M625,260.9 L629.2,266.6 L625,272.3 L620.8,266.6 Z" fill="#ff00ff"/>
<path d="M615.6,267.7 L619.1,272.6 L615.6,277.5 L612.1,272.6 Z" fill="none" stroke="#ff00ff" stroke-width="1.5"/>
<path d="M318,417.35 L320,417.33 L322,417.3 L324,417.25 L326,417.19 L328,417.12 L330,417.04 L332,416.94 L334,416.83 L336,416.71 L338,416.58 L340,416.43 L342,416.28 L344,416.11 L346,415.93 L348,415.75 L350,415.55 L352,415.34 L354,415.12 L356,414.9 L358,414.66 L360,414.42 L362,414.16 L364,413.9 L366,413.63 L368,413.35 L370,413.06 L372,412.77 L374,412.47 L376,412.16 L378,411.84 L380,411.52 L382,411.19 L384,410.86 L386,410.52 L388,410.17 L390,409.82 L392,409.47 L394,409.1 L396,408.74 L398,408.37 L400,407.99 L402,407.62 L404,407.24 L406,406.85 L408,406.46 L410,406.07 L412,405.68 L414,405.28 L416,404.88 L418,404.48 L420,404.08 L422,403.68 L424,403.27 L426,402.87 L428,402.46 L430,402.06 L432,401.65 L434,401.24 L436,400.84 L438,400.43 L440,400.03 L442,399.62 L444,399.22 L446,398.82 L448,398.42 L450,398.02 L452,397.63 L454,397.23 L456,396.84 L458,396.46 L460,396.07 L462,395.69 L464,395.31 L466,394.94 L468,394.57 L470,394.21 L472,393.85 L474,393.5 L476,393.15 L478,392.8 L480,392.46 L482,392.13 L484,391.8 L486,391.49 L488,391.17 L490,390.87 L492,390.57 L494,390.28 L496,389.99 L498,389.72 L500,389.45 L502,389.19 L504,388.95 L506,388.71 L508,388.48 L510,388.26 L512,388.05 L514,387.85 L516,387.67 L518,387.49 L520,387.33 L522,387.18 L524,387.04 L526,386.91 L528,386.8 L530,386.7 L532,386.61 L534,386.54 L536,386.48 L538,386.43 L540,386.4 L542,386.39 L544,386.39 L546,386.4 L548,386.43 L550,386.48 L552,386.55 L554,386.63 L556,386.73 L558,386.84 L560,386.98 L562,387.13 L564,387.3 L566,387.49 L568,387.7 L570,387.93 L572,388.17 L574,388.44 L576,388.73 L578,389.04 L580,389.37 L582,389.72 L584,390.09 L586,390.48 L588,390.9 L590,391.34 L592,391.8 L594,392.28 L596,392.79 L598,393.32 L600,393.87 L602,394.45 L604,395.06 L606,395.68 L608,396.34 L610,397.02 L612,397.72 L614,398.45 L616,399.21 L618,399.99 L620,400.81 L622,401.64 L624,402.51 L625,402.95" fill="none" stroke="#ff00ff" stroke-width="1.12" stroke-dasharray="1.6 3.4"/>
<circle cx="318" cy="419.4" r="4.3" fill="#ff00ff"/>
<circle cx="342" cy="417" r="4.3" fill="#ff00ff"/>
<circle cx="373" cy="412" r="4.3" fill="#ff00ff"/>
<circle cx="406" cy="406" r="4.3" fill="#ff00ff"/>
<circle cx="444.2" cy="399.6" r="4.3" fill="#ff00ff"/>
<circle cx="483" cy="393" r="4.3" fill="#ff00ff"/>
<circle cx="518" cy="387.6" r="4.3" fill="#ff00ff"/>
<circle cx="552.4" cy="386.6" r="4.3" fill="#ff00ff"/>
<circle cx="581.2" cy="388.6" r="4.3" fill="#ff00ff"/>
<circle cx="606.3" cy="395" r="4.3" fill="#ff00ff"/>
<circle cx="625" cy="404" r="4.3" fill="#ff00ff"/>
<circle cx="615.6" cy="416.4" r="3.6" fill="none" stroke="#ff00ff" stroke-width="1.5"/>
</g>
<g id="ion-C">
<path d="M340.2,269.59 L342.2,268.94 L344.2,268.23 L346.2,267.47 L348.2,266.65 L350.2,265.79 L352.2,264.87 L354.2,263.9 L356.2,262.89 L358.2,261.83 L360.2,260.72 L362.2,259.56 L364.2,258.36 L366.2,257.12 L368.2,255.83 L370.2,254.5 L372.2,253.14 L374.2,251.73 L376.2,250.28 L378.2,248.8 L380.2,247.28 L382.2,245.72 L384.2,244.13 L386.2,242.51 L388.2,240.85 L390.2,239.17 L392.2,237.45 L394.2,235.7 L396.2,233.93 L398.2,232.12 L400.2,230.29 L402.2,228.44 L404.2,226.56 L406.2,224.66 L408.2,222.74 L410.2,220.79 L412.2,218.83 L414.2,216.84 L416.2,214.84 L418.2,212.82 L420.2,210.78 L422.2,208.73 L424.2,206.67 L426.2,204.59 L428.2,202.5 L430.2,200.4 L432.2,198.29 L434.2,196.16 L436.2,194.02 L438.2,191.86 L440.2,189.69 L442.2,187.49 L444.2,185.27 L446.2,183.02 L448.2,180.75 L450.2,178.45 L452.2,176.11 L454.2,173.75 L456.2,171.34 L458.2,168.9 L460.2,166.42 L462.2,163.9 L464.2,161.34 L466.2,158.73 L468.2,156.08 L470.2,153.38 L472.2,150.64 L474.2,147.88 L476.2,145.1 L478.2,142.31 L480.2,139.51 L482.2,136.72 L484.2,133.95 L486.2,131.19 L488.2,128.47 L490.2,125.78 L492.2,123.14 L494.2,120.55 L496.2,118.03 L498.2,115.57 L500.2,113.2 L502.2,110.9 L504.2,108.71 L506.2,106.61 L508.2,104.62 L510.2,102.74 L512.2,100.97 L514.2,99.3 L516.2,97.75 L518.2,96.32 L520.2,95 L522.2,93.79 L524.2,92.71 L526.2,91.75 L528.2,90.92 L530.2,90.21 L532.2,89.62 L534.2,89.17 L536.2,88.85 L538.2,88.66 L540.2,88.6 L542.2,88.69 L544.2,88.9 L546.2,89.24 L548.2,89.7 L550.2,90.28 L552.2,90.98 L554.2,91.78 L556.2,92.69 L558.2,93.71 L560.2,94.82 L562.2,96.02 L564.2,97.31 L566.2,98.68 L568.2,100.14 L570.2,101.67 L572.2,103.27 L574.2,104.94 L576.2,106.68 L578.2,108.49 L580.2,110.4 L582.2,112.4 L584.2,114.5 L586.2,116.71 L588.2,119.05 L590.2,121.51 L592.2,124.1 L594.2,126.85 L596.2,129.74 L598.2,132.8 L600.2,136.03 L602.2,139.43 L604.2,143.02 L606.2,146.81 L608.2,150.79 L610.2,154.99 L612.2,159.41 L614.2,164.05 L616.2,168.93 L618.2,174.06 L620.2,179.44 L622.2,185.07 L623.5,188.88" fill="none" stroke="#00ffff" stroke-width="1.12"/>
<rect x="335.2" y="269.6" width="10" height="10" fill="#00ffff"/>
<rect x="359" y="251" width="10" height="10" fill="#00ffff"/>
<rect x="389.6" y="231" width="10" height="10" fill="#00ffff"/>
<rect x="424.5" y="195" width="10" height="10" fill="#00ffff"/>
<rect x="462" y="154" width="10" height="10" fill="#00ffff"/>
<rect x="499.4" y="103" width="10" height="10" fill="#00ffff"/>
<rect x="534.8" y="84" width="10" height="10" fill="#00ffff"/>
<rect x="568" y="101" width="10" height="10" fill="#00ffff"/>
<rect x="597.3" y="133" width="10" height="10" fill="#00ffff"/>
<rect x="618.5" y="184.4" width="10" height="10" fill="#00ffff"/>
<rect x="619.25" y="207.25" width="8.7" height="8.7" fill="none" stroke="#00ffff" stroke-width="1.5"/>
<rect x="612.05" y="215.65" width="8.7" height="8.7" fill="none" stroke="#00ffff" stroke-width="1.5"/>
<path d="M340.2,397.3 L342.2,396.62 L344.2,395.96 L346.2,395.31 L348.2,394.68 L350.2,394.05 L352.2,393.43 L354.2,392.82 L356.2,392.21 L358.2,391.61 L360.2,391.01 L362.2,390.42 L364.2,389.83 L366.2,389.24 L368.2,388.65 L370.2,388.06 L372.2,387.46 L374.2,386.87 L376.2,386.26 L378.2,385.66 L380.2,385.04 L382.2,384.42 L384.2,383.8 L386.2,383.16 L388.2,382.51 L390.2,381.85 L392.2,381.17 L394.2,380.48 L396.2,379.78 L398.2,379.06 L400.2,378.33 L402.2,377.57 L404.2,376.8 L406.2,376 L408.2,375.19 L410.2,374.35 L412.2,373.49 L414.2,372.6 L416.2,371.69 L418.2,370.75 L420.2,369.78 L422.2,368.79 L424.2,367.76 L426.2,366.7 L428.2,365.61 L430.2,364.49 L432.2,363.34 L434.2,362.14 L436.2,360.92 L438.2,359.65 L440.2,358.35 L442.2,357.01 L444.2,355.63 L446.2,354.21 L448.2,352.76 L450.2,351.26 L452.2,349.71 L454.2,348.13 L456.2,346.5 L458.2,344.82 L460.2,343.11 L462.2,341.34 L464.2,339.53 L466.2,337.67 L468.2,335.76 L470.2,333.81 L472.2,331.81 L474.2,329.78 L476.2,327.72 L478.2,325.63 L480.2,323.52 L482.2,321.39 L484.2,319.26 L486.2,317.11 L488.2,314.97 L490.2,312.83 L492.2,310.7 L494.2,308.58 L496.2,306.48 L498.2,304.41 L500.2,302.36 L502.2,300.35 L504.2,298.37 L506.2,296.44 L508.2,294.56 L510.2,292.71 L512.2,290.92 L514.2,289.17 L516.2,287.47 L518.2,285.81 L520.2,284.21 L522.2,282.65 L524.2,281.15 L526.2,279.69 L528.2,278.29 L530.2,276.93 L532.2,275.63 L534.2,274.39 L536.2,273.19 L538.2,272.06 L540.2,270.97 L542.2,269.95 L544.2,268.97 L546.2,268.06 L548.2,267.21 L550.2,266.41 L552.2,265.67 L554.2,264.99 L556.2,264.37 L558.2,263.82 L560.2,263.32 L562.2,262.89 L564.2,262.52 L566.2,262.22 L568.2,261.98 L570.2,261.8 L572.2,261.69 L574.2,261.65 L576.2,261.67 L578.2,261.77 L580.2,261.93 L582.2,262.15 L584.2,262.45 L586.2,262.82 L588.2,263.26 L590.2,263.78 L592.2,264.36 L594.2,265.02 L596.2,265.75 L598.2,266.56 L600.2,267.44 L602.2,268.4 L604.2,269.43 L606.2,270.54 L608.2,271.73 L610.2,272.99 L612.2,274.34 L614.2,275.77 L616.2,277.27 L618.2,278.86 L620.2,280.53 L622.2,282.28 L623.5,283.46" fill="none" stroke="#00ffff" stroke-width="1.12" stroke-dasharray="10.5 6"/>
<path d="M340.2,391.9 L344.4,397.6 L340.2,403.3 L336,397.6 Z" fill="#00ffff"/>
<path d="M364,384.8 L368.2,390.5 L364,396.2 L359.8,390.5 Z" fill="#00ffff"/>
<path d="M394.6,373.7 L398.8,379.4 L394.6,385.1 L390.4,379.4 Z" fill="#00ffff"/>
<path d="M429.5,359.1 L433.7,364.8 L429.5,370.5 L425.3,364.8 Z" fill="#00ffff"/>
<path d="M467,332.3 L471.2,338 L467,343.7 L462.8,338 Z" fill="#00ffff"/>
<path d="M504.4,291.3 L508.6,297 L504.4,302.7 L500.2,297 Z" fill="#00ffff"/>
<path d="M539.8,265.5 L544,271.2 L539.8,276.9 L535.6,271.2 Z" fill="#00ffff"/>
<path d="M573,257.3 L577.2,263 L573,268.7 L568.8,263 Z" fill="#00ffff"/>
<path d="M602.3,261.3 L606.5,267 L602.3,272.7 L598.1,267 Z" fill="#00ffff"/>
<path d="M623.5,278.3 L627.7,284 L623.5,289.7 L619.3,284 Z" fill="#00ffff"/>
<path d="M623.6,279.4 L627.1,284.3 L623.6,289.2 L620.1,284.3 Z" fill="none" stroke="#00ffff" stroke-width="1.5"/>
<path d="M616.4,284.5 L619.9,289.4 L616.4,294.3 L612.9,289.4 Z" fill="none" stroke="#00ffff" stroke-width="1.5"/>
<path d="M340.2,415.74 L342.2,415.64 L344.2,415.53 L346.2,415.41 L348.2,415.27 L350.2,415.13 L352.2,414.97 L354.2,414.8 L356.2,414.62 L358.2,414.44 L360.2,414.24 L362.2,414.03 L364.2,413.81 L366.2,413.59 L368.2,413.35 L370.2,413.11 L372.2,412.86 L374.2,412.6 L376.2,412.33 L378.2,412.05 L380.2,411.77 L382.2,411.48 L384.2,411.18 L386.2,410.87 L388.2,410.56 L390.2,410.25 L392.2,409.92 L394.2,409.59 L396.2,409.26 L398.2,408.92 L400.2,408.58 L402.2,408.23 L404.2,407.87 L406.2,407.52 L408.2,407.15 L410.2,406.79 L412.2,406.42 L414.2,406.05 L416.2,405.67 L418.2,405.29 L420.2,404.91 L422.2,404.53 L424.2,404.15 L426.2,403.76 L428.2,403.37 L430.2,402.98 L432.2,402.59 L434.2,402.2 L436.2,401.81 L438.2,401.42 L440.2,401.03 L442.2,400.64 L444.2,400.25 L446.2,399.86 L448.2,399.47 L450.2,399.08 L452.2,398.69 L454.2,398.31 L456.2,397.93 L458.2,397.55 L460.2,397.17 L462.2,396.79 L464.2,396.42 L466.2,396.05 L468.2,395.69 L470.2,395.33 L472.2,394.97 L474.2,394.62 L476.2,394.27 L478.2,393.93 L480.2,393.59 L482.2,393.25 L484.2,392.92 L486.2,392.6 L488.2,392.29 L490.2,391.98 L492.2,391.67 L494.2,391.38 L496.2,391.09 L498.2,390.8 L500.2,390.53 L502.2,390.26 L504.2,390 L506.2,389.75 L508.2,389.51 L510.2,389.27 L512.2,389.05 L514.2,388.84 L516.2,388.63 L518.2,388.44 L520.2,388.26 L522.2,388.09 L524.2,387.93 L526.2,387.79 L528.2,387.65 L530.2,387.54 L532.2,387.43 L534.2,387.34 L536.2,387.26 L538.2,387.2 L540.2,387.16 L542.2,387.13 L544.2,387.11 L546.2,387.12 L548.2,387.14 L550.2,387.18 L552.2,387.23 L554.2,387.31 L556.2,387.4 L558.2,387.51 L560.2,387.65 L562.2,387.8 L564.2,387.97 L566.2,388.17 L568.2,388.39 L570.2,388.62 L572.2,388.89 L574.2,389.17 L576.2,389.48 L578.2,389.81 L580.2,390.16 L582.2,390.54 L584.2,390.94 L586.2,391.37 L588.2,391.83 L590.2,392.31 L592.2,392.82 L594.2,393.36 L596.2,393.92 L598.2,394.51 L600.2,395.13 L602.2,395.78 L604.2,396.45 L606.2,397.16 L608.2,397.9 L610.2,398.67 L612.2,399.46 L614.2,400.29 L616.2,401.16 L618.2,402.05 L620.2,402.98 L622.2,403.94 L623.5,404.58" fill="none" stroke="#00ffff" stroke-width="1.12" stroke-dasharray="1.6 3.4"/>
<circle cx="340.2" cy="416.6" r="4.3" fill="#00ffff"/>
<circle cx="364" cy="413" r="4.3" fill="#00ffff"/>
<circle cx="394.6" cy="409" r="4.3" fill="#00ffff"/>
<circle cx="429.5" cy="403" r="4.3" fill="#00ffff"/>
<circle cx="467" cy="397" r="4.3" fill="#00ffff"/>
<circle cx="504.4" cy="389.6" r="4.3" fill="#00ffff"/>
<circle cx="539.8" cy="387" r="4.3" fill="#00ffff"/>
<circle cx="573" cy="389.6" r="4.3" fill="#00ffff"/>
<circle cx="602.3" cy="394.4" r="4.3" fill="#00ffff"/>
<circle cx="623.5" cy="405.4" r="4.3" fill="#00ffff"/>
<circle cx="623.6" cy="412.6" r="3.6" fill="none" stroke="#00ffff" stroke-width="1.5"/>
<circle cx="616.4" cy="420.6" r="3.6" fill="none" stroke="#00ffff" stroke-width="1.5"/>
</g>
<g id="ion-N">
<path d="M359.6,259.91 L361.6,259.29 L363.6,258.58 L365.6,257.79 L367.6,256.91 L369.6,255.95 L371.6,254.91 L373.6,253.79 L375.6,252.6 L377.6,251.33 L379.6,249.98 L381.6,248.57 L383.6,247.09 L385.6,245.55 L387.6,243.94 L389.6,242.26 L391.6,240.53 L393.6,238.74 L395.6,236.9 L397.6,235 L399.6,233.04 L401.6,231.04 L403.6,229 L405.6,226.9 L407.6,224.76 L409.6,222.59 L411.6,220.37 L413.6,218.11 L415.6,215.82 L417.6,213.5 L419.6,211.14 L421.6,208.76 L423.6,206.35 L425.6,203.91 L427.6,201.46 L429.6,198.98 L431.6,196.48 L433.6,193.96 L435.6,191.44 L437.6,188.89 L439.6,186.34 L441.6,183.78 L443.6,181.21 L445.6,178.64 L447.6,176.07 L449.6,173.49 L451.6,170.92 L453.6,168.35 L455.6,165.79 L457.6,163.23 L459.6,160.69 L461.6,158.16 L463.6,155.64 L465.6,153.14 L467.6,150.65 L469.6,148.19 L471.6,145.75 L473.6,143.33 L475.6,140.94 L477.6,138.58 L479.6,136.25 L481.6,133.95 L483.6,131.68 L485.6,129.46 L487.6,127.27 L489.6,125.12 L491.6,123.02 L493.6,120.96 L495.6,118.94 L497.6,116.98 L499.6,115.07 L501.6,113.21 L503.6,111.41 L505.6,109.66 L507.6,107.97 L509.6,106.35 L511.6,104.78 L513.6,103.29 L515.6,101.86 L517.6,100.5 L519.6,99.21 L521.6,98 L523.6,96.86 L525.6,95.8 L527.6,94.82 L529.6,93.92 L531.6,93.11 L533.6,92.38 L535.6,91.75 L537.6,91.21 L539.6,90.76 L541.6,90.42 L543.6,90.17 L545.6,90.02 L547.6,89.98 L549.6,90.05 L551.6,90.23 L553.6,90.52 L555.6,90.92 L557.6,91.45 L559.6,92.09 L561.6,92.86 L563.6,93.75 L565.6,94.76 L567.6,95.91 L569.6,97.19 L571.6,98.61 L573.6,100.16 L575.6,101.86 L577.6,103.69 L579.6,105.67 L581.6,107.8 L583.6,110.08 L585.6,112.51 L587.6,115.09 L589.6,117.83 L591.6,120.73 L593.6,123.8 L595.6,127.01 L597.6,130.38 L599.6,133.88 L601.6,137.52 L603.6,141.27 L605.6,145.15 L607.6,149.13 L609.6,153.21 L611.6,157.38 L613.6,161.63 L615.6,165.96 L617.6,170.36 L619.6,174.81 L621.6,179.32 L623.6,183.87 L625.6,188.46 L627.6,193.07 L629.6,197.71 L631.6,202.35 L633.6,207 L635.6,211.65 L637.6,216.28 L638,217.21" fill="none" stroke="#800000" stroke-width="1.12"/>
<rect x="354.6" y="257.8" width="10" height="10" fill="#800000"/>
<rect x="378.2" y="241" width="10" height="10" fill="#800000"/>
<rect x="409" y="212.6" width="10" height="10" fill="#800000"/>
<rect x="443" y="171.6" width="10" height="10" fill="#800000"/>
<rect x="480.4" y="125.6" width="10" height="10" fill="#800000"/>
<rect x="518.7" y="95" width="10" height="10" fill="#800000"/>
<rect x="554.5" y="89.8" width="10" height="10" fill="#800000"/>
<rect x="586.7" y="116" width="10" height="10" fill="#800000"/>
<rect x="612.4" y="166.4" width="10" height="10" fill="#800000"/>
<rect x="633" y="211.4" width="10" height="10" fill="#800000"/>
<rect x="629.65" y="226.65" width="8.7" height="8.7" fill="none" stroke="#800000" stroke-width="1.5"/>
<rect x="620.65" y="234.15" width="8.7" height="8.7" fill="none" stroke="#800000" stroke-width="1.5"/>
<path d="M359.6,391.91 L361.6,391.49 L363.6,391.05 L365.6,390.6 L367.6,390.12 L369.6,389.63 L371.6,389.12 L373.6,388.58 L375.6,388.03 L377.6,387.45 L379.6,386.86 L381.6,386.24 L383.6,385.6 L385.6,384.94 L387.6,384.25 L389.6,383.54 L391.6,382.81 L393.6,382.05 L395.6,381.27 L397.6,380.46 L399.6,379.63 L401.6,378.77 L403.6,377.89 L405.6,376.97 L407.6,376.04 L409.6,375.07 L411.6,374.07 L413.6,373.05 L415.6,372 L417.6,370.92 L419.6,369.81 L421.6,368.66 L423.6,367.49 L425.6,366.29 L427.6,365.05 L429.6,363.79 L431.6,362.49 L433.6,361.16 L435.6,359.79 L437.6,358.39 L439.6,356.96 L441.6,355.5 L443.6,353.99 L445.6,352.46 L447.6,350.89 L449.6,349.28 L451.6,347.63 L453.6,345.96 L455.6,344.25 L457.6,342.52 L459.6,340.76 L461.6,338.98 L463.6,337.17 L465.6,335.34 L467.6,333.5 L469.6,331.64 L471.6,329.77 L473.6,327.88 L475.6,325.99 L477.6,324.09 L479.6,322.18 L481.6,320.27 L483.6,318.36 L485.6,316.45 L487.6,314.54 L489.6,312.64 L491.6,310.74 L493.6,308.86 L495.6,306.99 L497.6,305.12 L499.6,303.28 L501.6,301.45 L503.6,299.64 L505.6,297.86 L507.6,296.1 L509.6,294.36 L511.6,292.65 L513.6,290.98 L515.6,289.33 L517.6,287.72 L519.6,286.15 L521.6,284.61 L523.6,283.11 L525.6,281.66 L527.6,280.25 L529.6,278.89 L531.6,277.57 L533.6,276.3 L535.6,275.08 L537.6,273.91 L539.6,272.79 L541.6,271.73 L543.6,270.72 L545.6,269.76 L547.6,268.86 L549.6,268.02 L551.6,267.23 L553.6,266.51 L555.6,265.85 L557.6,265.25 L559.6,264.72 L561.6,264.25 L563.6,263.84 L565.6,263.51 L567.6,263.24 L569.6,263.04 L571.6,262.92 L573.6,262.87 L575.6,262.89 L577.6,262.99 L579.6,263.16 L581.6,263.41 L583.6,263.74 L585.6,264.15 L587.6,264.64 L589.6,265.22 L591.6,265.88 L593.6,266.62 L595.6,267.45 L597.6,268.35 L599.6,269.33 L601.6,270.39 L603.6,271.51 L605.6,272.7 L607.6,273.96 L609.6,275.27 L611.6,276.64 L613.6,278.07 L615.6,279.55 L617.6,281.08 L619.6,282.65 L621.6,284.27 L623.6,285.93 L625.6,287.62 L627.6,289.34 L629.6,291.1 L631.6,292.88 L633.6,294.68 L635.6,296.51 L637.6,298.35 L638,298.72" fill="none" stroke="#800000" stroke-width="1.12" stroke-dasharray="10.5 6"/>
<path d="M359.6,386.9 L363.8,392.6 L359.6,398.3 L355.4,392.6 Z" fill="#800000"/>
<path d="M383.2,379.9 L387.4,385.6 L383.2,391.3 L379,385.6 Z" fill="#800000"/>
<path d="M414,367.9 L418.2,373.6 L414,379.3 L409.8,373.6 Z" fill="#800000"/>
<path d="M448,343.6 L452.2,349.3 L448,355 L443.8,349.3 Z" fill="#800000"/>
<path d="M485.4,312.3 L489.6,318 L485.4,323.7 L481.2,318 Z" fill="#800000"/>
<path d="M523.7,277.3 L527.9,283 L523.7,288.7 L519.5,283 Z" fill="#800000"/>
<path d="M559.5,258.1 L563.7,263.8 L559.5,269.5 L555.3,263.8 Z" fill="#800000"/>
<path d="M591.7,259.9 L595.9,265.6 L591.7,271.3 L587.5,265.6 Z" fill="#800000"/>
<path d="M617.4,276.7 L621.6,282.4 L617.4,288.1 L613.2,282.4 Z" fill="#800000"/>
<path d="M638,292.3 L642.2,298 L638,303.7 L633.8,298 Z" fill="#800000"/>
<path d="M634,289.1 L637.5,294 L634,298.9 L630.5,294 Z" fill="none" stroke="#800000" stroke-width="1.5"/>
<path d="M625,296.1 L628.5,301 L625,305.9 L621.5,301 Z" fill="none" stroke="#800000" stroke-width="1.5"/>
<path d="M359.6,413.94 L361.6,413.74 L363.6,413.53 L365.6,413.31 L367.6,413.08 L369.6,412.85 L371.6,412.6 L373.6,412.35 L375.6,412.08 L377.6,411.81 L379.6,411.54 L381.6,411.25 L383.6,410.96 L385.6,410.66 L387.6,410.36 L389.6,410.05 L391.6,409.74 L393.6,409.41 L395.6,409.09 L397.6,408.76 L399.6,408.42 L401.6,408.08 L403.6,407.73 L405.6,407.38 L407.6,407.03 L409.6,406.67 L411.6,406.31 L413.6,405.95 L415.6,405.58 L417.6,405.21 L419.6,404.84 L421.6,404.47 L423.6,404.09 L425.6,403.72 L427.6,403.34 L429.6,402.96 L431.6,402.58 L433.6,402.2 L435.6,401.82 L437.6,401.44 L439.6,401.06 L441.6,400.68 L443.6,400.3 L445.6,399.92 L447.6,399.54 L449.6,399.16 L451.6,398.79 L453.6,398.42 L455.6,398.05 L457.6,397.68 L459.6,397.31 L461.6,396.95 L463.6,396.59 L465.6,396.24 L467.6,395.88 L469.6,395.54 L471.6,395.19 L473.6,394.85 L475.6,394.52 L477.6,394.19 L479.6,393.87 L481.6,393.55 L483.6,393.23 L485.6,392.93 L487.6,392.63 L489.6,392.33 L491.6,392.04 L493.6,391.76 L495.6,391.49 L497.6,391.22 L499.6,390.96 L501.6,390.71 L503.6,390.47 L505.6,390.24 L507.6,390.01 L509.6,389.8 L511.6,389.59 L513.6,389.39 L515.6,389.21 L517.6,389.03 L519.6,388.86 L521.6,388.7 L523.6,388.56 L525.6,388.42 L527.6,388.3 L529.6,388.19 L531.6,388.09 L533.6,388 L535.6,387.93 L537.6,387.86 L539.6,387.82 L541.6,387.78 L543.6,387.77 L545.6,387.76 L547.6,387.77 L549.6,387.8 L551.6,387.85 L553.6,387.91 L555.6,387.98 L557.6,388.08 L559.6,388.19 L561.6,388.32 L563.6,388.47 L565.6,388.64 L567.6,388.83 L569.6,389.03 L571.6,389.26 L573.6,389.51 L575.6,389.77 L577.6,390.06 L579.6,390.38 L581.6,390.71 L583.6,391.06 L585.6,391.44 L587.6,391.85 L589.6,392.27 L591.6,392.72 L593.6,393.2 L595.6,393.69 L597.6,394.22 L599.6,394.77 L601.6,395.34 L603.6,395.95 L605.6,396.58 L607.6,397.23 L609.6,397.92 L611.6,398.63 L613.6,399.37 L615.6,400.14 L617.6,400.94 L619.6,401.77 L621.6,402.62 L623.6,403.51 L625.6,404.43 L627.6,405.38 L629.6,406.37 L631.6,407.38 L633.6,408.43 L635.6,409.51 L637.6,410.62 L638,410.84" fill="none" stroke="#800000" stroke-width="1.12" stroke-dasharray="1.6 3.4"/>
<circle cx="359.6" cy="414" r="4.3" fill="#800000"/>
<circle cx="383.2" cy="411.6" r="4.3" fill="#800000"/>
<circle cx="414" cy="405" r="4.3" fill="#800000"/>
<circle cx="448" cy="399.4" r="4.3" fill="#800000"/>
<circle cx="485.4" cy="393" r="4.3" fill="#800000"/>
<circle cx="523.7" cy="390" r="4.3" fill="#800000"/>
<circle cx="559.5" cy="387.6" r="4.3" fill="#800000"/>
<circle cx="591.7" cy="391.6" r="4.3" fill="#800000"/>
<circle cx="617.4" cy="401.4" r="4.3" fill="#800000"/>
<circle cx="638" cy="411" r="4.3" fill="#800000"/>
<circle cx="634" cy="416.6" r="3.6" fill="none" stroke="#800000" stroke-width="1.5"/>
<circle cx="625" cy="424" r="3.6" fill="none" stroke="#800000" stroke-width="1.5"/>
</g>
<g id="ion-O">
<path d="M376,250.41 L378,249.11 L380,247.74 L382,246.31 L384,244.81 L386,243.25 L388,241.63 L390,239.95 L392,238.22 L394,236.43 L396,234.6 L398,232.71 L400,230.78 L402,228.81 L404,226.79 L406,224.73 L408,222.63 L410,220.49 L412,218.32 L414,216.12 L416,213.89 L418,211.63 L420,209.35 L422,207.04 L424,204.71 L426,202.36 L428,199.99 L430,197.61 L432,195.21 L434,192.8 L436,190.39 L438,187.96 L440,185.53 L442,183.1 L444,180.67 L446,178.23 L448,175.8 L450,173.38 L452,170.97 L454,168.56 L456,166.16 L458,163.78 L460,161.42 L462,159.07 L464,156.74 L466,154.44 L468,152.16 L470,149.9 L472,147.67 L474,145.46 L476,143.28 L478,141.13 L480,139 L482,136.9 L484,134.83 L486,132.79 L488,130.78 L490,128.8 L492,126.85 L494,124.93 L496,123.04 L498,121.19 L500,119.37 L502,117.59 L504,115.84 L506,114.13 L508,112.46 L510,110.84 L512,109.28 L514,107.78 L516,106.34 L518,104.98 L520,103.68 L522,102.47 L524,101.34 L526,100.3 L528,99.35 L530,98.51 L532,97.76 L534,97.13 L536,96.61 L538,96.21 L540,95.93 L542,95.79 L544,95.77 L546,95.88 L548,96.12 L550,96.49 L552,96.98 L554,97.6 L556,98.34 L558,99.2 L560,100.18 L562,101.28 L564,102.51 L566,103.84 L568,105.3 L570,106.87 L572,108.55 L574,110.35 L576,112.25 L578,114.27 L580,116.4 L582,118.63 L584,120.97 L586,123.42 L588,125.97 L590,128.62 L592,131.38 L594,134.23 L596,137.19 L598,140.24 L600,143.39 L602,146.64 L604,149.98 L606,153.42 L608,156.94 L610,160.55 L612,164.23 L614,167.97 L616,171.76 L618,175.6 L620,179.46 L622,183.35 L624,187.25 L626,191.15 L628,195.05 L630,198.92 L632,202.77 L634,206.58 L636,210.34 L638,214.05 L640,217.68 L642,221.24 L644,224.72 L646,228.09 L648,231.36 L649,232.95" fill="none" stroke="#008000" stroke-width="1.12"/>
<rect x="371" y="245.6" width="10" height="10" fill="#008000"/>
<rect x="395" y="226" width="10" height="10" fill="#008000"/>
<rect x="425.6" y="192" width="10" height="10" fill="#008000"/>
<rect x="460.2" y="149.4" width="10" height="10" fill="#008000"/>
<rect x="497" y="114" width="10" height="10" fill="#008000"/>
<rect x="535.8" y="93.8" width="10" height="10" fill="#008000"/>
<rect x="570.8" y="107.6" width="10" height="10" fill="#008000"/>
<rect x="600.8" y="146.5" width="10" height="10" fill="#008000"/>
<rect x="626" y="191" width="10" height="10" fill="#008000"/>
<rect x="644" y="230" width="10" height="10" fill="#008000"/>
<rect x="637.65" y="248.05" width="8.7" height="8.7" fill="none" stroke="#008000" stroke-width="1.5"/>
<rect x="629.65" y="237.65" width="8.7" height="8.7" fill="none" stroke="#008000" stroke-width="1.5"/>
<path d="M376,387.08 L378,386.59 L380,386.06 L382,385.49 L384,384.87 L386,384.22 L388,383.53 L390,382.8 L392,382.04 L394,381.24 L396,380.4 L398,379.53 L400,378.62 L402,377.68 L404,376.71 L406,375.71 L408,374.67 L410,373.61 L412,372.51 L414,371.39 L416,370.23 L418,369.05 L420,367.85 L422,366.61 L424,365.36 L426,364.07 L428,362.77 L430,361.44 L432,360.08 L434,358.71 L436,357.31 L438,355.9 L440,354.46 L442,353.01 L444,351.54 L446,350.05 L448,348.54 L450,347.02 L452,345.48 L454,343.93 L456,342.37 L458,340.79 L460,339.2 L462,337.6 L464,335.98 L466,334.36 L468,332.73 L470,331.09 L472,329.44 L474,327.78 L476,326.11 L478,324.43 L480,322.75 L482,321.06 L484,319.36 L486,317.66 L488,315.95 L490,314.23 L492,312.51 L494,310.78 L496,309.05 L498,307.31 L500,305.57 L502,303.82 L504,302.07 L506,300.32 L508,298.58 L510,296.84 L512,295.12 L514,293.42 L516,291.74 L518,290.09 L520,288.47 L522,286.89 L524,285.36 L526,283.86 L528,282.42 L530,281.04 L532,279.71 L534,278.45 L536,277.26 L538,276.14 L540,275.11 L542,274.15 L544,273.28 L546,272.49 L548,271.78 L550,271.15 L552,270.61 L554,270.14 L556,269.75 L558,269.43 L560,269.19 L562,269.03 L564,268.94 L566,268.92 L568,268.96 L570,269.08 L572,269.27 L574,269.53 L576,269.85 L578,270.23 L580,270.68 L582,271.19 L584,271.77 L586,272.4 L588,273.09 L590,273.84 L592,274.65 L594,275.52 L596,276.43 L598,277.41 L600,278.43 L602,279.51 L604,280.63 L606,281.81 L608,283.03 L610,284.29 L612,285.59 L614,286.93 L616,288.28 L618,289.66 L620,291.05 L622,292.45 L624,293.85 L626,295.26 L628,296.65 L630,298.03 L632,299.39 L634,300.73 L636,302.03 L638,303.31 L640,304.54 L642,305.72 L644,306.85 L646,307.93 L648,308.94 L649,309.42" fill="none" stroke="#008000" stroke-width="1.12" stroke-dasharray="10.5 6"/>
<path d="M376,380.9 L380.2,386.6 L376,392.3 L371.8,386.6 Z" fill="#008000"/>
<path d="M400,373.7 L404.2,379.4 L400,385.1 L395.8,379.4 Z" fill="#008000"/>
<path d="M430.6,354.7 L434.8,360.4 L430.6,366.1 L426.4,360.4 Z" fill="#008000"/>
<path d="M465.2,328.8 L469.4,334.5 L465.2,340.2 L461,334.5 Z" fill="#008000"/>
<path d="M502,299.3 L506.2,305 L502,310.7 L497.8,305 Z" fill="#008000"/>
<path d="M540.8,269.1 L545,274.8 L540.8,280.5 L536.6,274.8 Z" fill="#008000"/>
<path d="M575.8,262.3 L580,268 L575.8,273.7 L571.6,268 Z" fill="#008000"/>
<path d="M605.8,277.3 L610,283 L605.8,288.7 L601.6,283 Z" fill="#008000"/>
<path d="M631,293.3 L635.2,299 L631,304.7 L626.8,299 Z" fill="#008000"/>
<path d="M649,303.3 L653.2,309 L649,314.7 L644.8,309 Z" fill="#008000"/>
<path d="M642,303.1 L645.5,308 L642,312.9 L638.5,308 Z" fill="none" stroke="#008000" stroke-width="1.5"/>
<path d="M634,298.1 L637.5,303 L634,307.9 L630.5,303 Z" fill="none" stroke="#008000" stroke-width="1.5"/>
<path d="M376,412 L378,411.71 L380,411.42 L382,411.12 L384,410.82 L386,410.51 L388,410.2 L390,409.88 L392,409.56 L394,409.24 L396,408.91 L398,408.58 L400,408.24 L402,407.91 L404,407.57 L406,407.22 L408,406.88 L410,406.53 L412,406.18 L414,405.83 L416,405.48 L418,405.12 L420,404.77 L422,404.41 L424,404.06 L426,403.7 L428,403.34 L430,402.98 L432,402.63 L434,402.27 L436,401.91 L438,401.56 L440,401.2 L442,400.85 L444,400.5 L446,400.15 L448,399.8 L450,399.45 L452,399.11 L454,398.77 L456,398.43 L458,398.09 L460,397.76 L462,397.43 L464,397.11 L466,396.79 L468,396.47 L470,396.15 L472,395.85 L474,395.54 L476,395.24 L478,394.95 L480,394.66 L482,394.37 L484,394.1 L486,393.82 L488,393.56 L490,393.3 L492,393.04 L494,392.8 L496,392.56 L498,392.33 L500,392.1 L502,391.88 L504,391.67 L506,391.47 L508,391.28 L510,391.09 L512,390.92 L514,390.75 L516,390.59 L518,390.44 L520,390.3 L522,390.17 L524,390.05 L526,389.95 L528,389.85 L530,389.76 L532,389.68 L534,389.61 L536,389.56 L538,389.51 L540,389.48 L542,389.46 L544,389.45 L546,389.46 L548,389.47 L550,389.5 L552,389.55 L554,389.6 L556,389.68 L558,389.76 L560,389.87 L562,389.99 L564,390.12 L566,390.27 L568,390.44 L570,390.62 L572,390.83 L574,391.05 L576,391.29 L578,391.54 L580,391.82 L582,392.12 L584,392.43 L586,392.77 L588,393.13 L590,393.51 L592,393.91 L594,394.33 L596,394.77 L598,395.24 L600,395.73 L602,396.24 L604,396.78 L606,397.34 L608,397.93 L610,398.54 L612,399.18 L614,399.84 L616,400.53 L618,401.24 L620,401.98 L622,402.75 L624,403.55 L626,404.37 L628,405.23 L630,406.11 L632,407.02 L634,407.96 L636,408.93 L638,409.93 L640,410.97 L642,412.03 L644,413.13 L646,414.25 L648,415.41 L649,416" fill="none" stroke="#008000" stroke-width="1.12" stroke-dasharray="1.6 3.4"/>
<circle cx="376" cy="412.4" r="4.3" fill="#008000"/>
<circle cx="400" cy="408" r="4.3" fill="#008000"/>
<circle cx="430.6" cy="401.6" r="4.3" fill="#008000"/>
<circle cx="465.2" cy="398.5" r="4.3" fill="#008000"/>
<circle cx="502" cy="391.6" r="4.3" fill="#008000"/>
<circle cx="540.8" cy="389.6" r="4.3" fill="#008000"/>
<circle cx="575.8" cy="390.6" r="4.3" fill="#008000"/>
<circle cx="605.8" cy="397.6" r="4.3" fill="#008000"/>
<circle cx="631" cy="406.6" r="4.3" fill="#008000"/>
<circle cx="649" cy="416" r="4.3" fill="#008000"/>
<circle cx="642" cy="420.6" r="3.6" fill="none" stroke="#008000" stroke-width="1.5"/>
<circle cx="634" cy="424.4" r="3.6" fill="none" stroke="#008000" stroke-width="1.5"/>
</g>
<g id="ion-Ne">
<path d="M404,227.15 L406,225.5 L408,223.77 L410,221.96 L412,220.08 L414,218.13 L416,216.11 L418,214.02 L420,211.88 L422,209.67 L424,207.42 L426,205.1 L428,202.74 L430,200.34 L432,197.89 L434,195.4 L436,192.88 L438,190.32 L440,187.73 L442,185.11 L444,182.48 L446,179.82 L448,177.14 L450,174.45 L452,171.75 L454,169.04 L456,166.32 L458,163.6 L460,160.89 L462,158.18 L464,155.47 L466,152.78 L468,150.1 L470,147.44 L472,144.8 L474,142.18 L476,139.59 L478,137.03 L480,134.5 L482,132.01 L484,129.55 L486,127.14 L488,124.77 L490,122.46 L492,120.19 L494,117.98 L496,115.83 L498,113.74 L500,111.72 L502,109.78 L504,107.91 L506,106.12 L508,104.42 L510,102.82 L512,101.31 L514,99.9 L516,98.6 L518,97.41 L520,96.33 L522,95.37 L524,94.54 L526,93.84 L528,93.27 L530,92.84 L532,92.55 L534,92.41 L536,92.4 L538,92.52 L540,92.78 L542,93.16 L544,93.67 L546,94.29 L548,95.02 L550,95.87 L552,96.82 L554,97.88 L556,99.04 L558,100.29 L560,101.63 L562,103.06 L564,104.57 L566,106.16 L568,107.83 L570,109.57 L572,111.38 L574,113.26 L576,115.22 L578,117.25 L580,119.35 L582,121.52 L584,123.76 L586,126.08 L588,128.47 L590,130.93 L592,133.47 L594,136.08 L596,138.76 L598,141.51 L600,144.34 L602,147.24 L604,150.21 L606,153.25 L608,156.36 L610,159.52 L612,162.73 L614,166 L616,169.32 L618,172.67 L620,176.07 L622,179.5 L624,182.96 L626,186.45 L628,189.96 L630,193.5 L632,197.04 L634,200.6 L636,204.16 L638,207.73 L640,211.31 L642,214.88 L644,218.45 L646,222.01 L648,225.57 L650,229.11 L652,232.64 L654,236.16 L656,239.65 L658,243.12 L660,246.56 L662,249.98 L664,253.36 L666,256.71" fill="none" stroke="#ffa500" stroke-width="1.12"/>
<rect x="399" y="222.4" width="10" height="10" fill="#ffa500"/>
<rect x="423" y="197" width="10" height="10" fill="#ffa500"/>
<rect x="453.2" y="159" width="10" height="10" fill="#ffa500"/>
<rect x="487.4" y="115" width="10" height="10" fill="#ffa500"/>
<rect x="525.5" y="88.4" width="10" height="10" fill="#ffa500"/>
<rect x="563" y="104.6" width="10" height="10" fill="#ffa500"/>
<rect x="596" y="139" width="10" height="10" fill="#ffa500"/>
<rect x="625.6" y="182" width="10" height="10" fill="#ffa500"/>
<rect x="648" y="224.4" width="10" height="10" fill="#ffa500"/>
<rect x="661" y="263" width="10" height="10" fill="#ffa500"/>
<rect x="652.25" y="275.85" width="8.7" height="8.7" fill="none" stroke="#ffa500" stroke-width="1.5"/>
<rect x="642.25" y="276.25" width="8.7" height="8.7" fill="none" stroke="#ffa500" stroke-width="1.5"/>
<path d="M404,376.19 L406,375.41 L408,374.59 L410,373.72 L412,372.82 L414,371.88 L416,370.9 L418,369.88 L420,368.82 L422,367.72 L424,366.58 L426,365.4 L428,364.19 L430,362.94 L432,361.65 L434,360.32 L436,358.95 L438,357.55 L440,356.11 L442,354.63 L444,353.12 L446,351.57 L448,349.98 L450,348.35 L452,346.69 L454,345 L456,343.27 L458,341.5 L460,339.7 L462,337.86 L464,336 L466,334.1 L468,332.19 L470,330.25 L472,328.3 L474,326.33 L476,324.35 L478,322.36 L480,320.36 L482,318.36 L484,316.37 L486,314.37 L488,312.38 L490,310.4 L492,308.43 L494,306.47 L496,304.53 L498,302.62 L500,300.73 L502,298.86 L504,297.03 L506,295.23 L508,293.47 L510,291.75 L512,290.07 L514,288.44 L516,286.87 L518,285.34 L520,283.88 L522,282.47 L524,281.13 L526,279.85 L528,278.65 L530,277.52 L532,276.46 L534,275.49 L536,274.59 L538,273.76 L540,273.01 L542,272.33 L544,271.72 L546,271.18 L548,270.71 L550,270.3 L552,269.96 L554,269.69 L556,269.48 L558,269.34 L560,269.25 L562,269.23 L564,269.27 L566,269.36 L568,269.51 L570,269.72 L572,269.98 L574,270.29 L576,270.66 L578,271.08 L580,271.55 L582,272.08 L584,272.65 L586,273.27 L588,273.94 L590,274.65 L592,275.41 L594,276.22 L596,277.07 L598,277.96 L600,278.9 L602,279.87 L604,280.89 L606,281.95 L608,283.05 L610,284.18 L612,285.35 L614,286.56 L616,287.8 L618,289.08 L620,290.39 L622,291.74 L624,293.12 L626,294.52 L628,295.96 L630,297.43 L632,298.92 L634,300.45 L636,302 L638,303.57 L640,305.17 L642,306.8 L644,308.44 L646,310.11 L648,311.8 L650,313.51 L652,315.25 L654,316.99 L656,318.76 L658,320.55 L660,322.35 L662,324.16 L664,325.99 L666,327.83" fill="none" stroke="#ffa500" stroke-width="1.12" stroke-dasharray="10.5 6"/>
<path d="M404,370.9 L408.2,376.6 L404,382.3 L399.8,376.6 Z" fill="#ffa500"/>
<path d="M428,357.3 L432.2,363 L428,368.7 L423.8,363 Z" fill="#ffa500"/>
<path d="M458.2,336.6 L462.4,342.3 L458.2,348 L454,342.3 Z" fill="#ffa500"/>
<path d="M492.4,302.9 L496.6,308.6 L492.4,314.3 L488.2,308.6 Z" fill="#ffa500"/>
<path d="M530.5,270.1 L534.7,275.8 L530.5,281.5 L526.3,275.8 Z" fill="#ffa500"/>
<path d="M568,264.1 L572.2,269.8 L568,275.5 L563.8,269.8 Z" fill="#ffa500"/>
<path d="M601,274.7 L605.2,280.4 L601,286.1 L596.8,280.4 Z" fill="#ffa500"/>
<path d="M630.6,291.9 L634.8,297.6 L630.6,303.3 L626.4,297.6 Z" fill="#ffa500"/>
<path d="M653,309.3 L657.2,315 L653,320.7 L648.8,315 Z" fill="#ffa500"/>
<path d="M666,322.9 L670.2,328.6 L666,334.3 L661.8,328.6 Z" fill="#ffa500"/>
<path d="M656.6,322.5 L660.1,327.4 L656.6,332.3 L653.1,327.4 Z" fill="none" stroke="#ffa500" stroke-width="1.5"/>
<path d="M646.6,323.7 L650.1,328.6 L646.6,333.5 L643.1,328.6 Z" fill="none" stroke="#ffa500" stroke-width="1.5"/>
<path d="M404,408.18 L406,407.74 L408,407.3 L410,406.86 L412,406.43 L414,406 L416,405.57 L418,405.14 L420,404.72 L422,404.31 L424,403.89 L426,403.49 L428,403.08 L430,402.68 L432,402.28 L434,401.89 L436,401.5 L438,401.11 L440,400.73 L442,400.36 L444,399.99 L446,399.62 L448,399.26 L450,398.91 L452,398.56 L454,398.21 L456,397.87 L458,397.54 L460,397.21 L462,396.88 L464,396.57 L466,396.26 L468,395.95 L470,395.65 L472,395.36 L474,395.07 L476,394.79 L478,394.52 L480,394.25 L482,393.99 L484,393.74 L486,393.49 L488,393.25 L490,393.02 L492,392.8 L494,392.58 L496,392.37 L498,392.17 L500,391.98 L502,391.79 L504,391.61 L506,391.44 L508,391.28 L510,391.12 L512,390.98 L514,390.84 L516,390.71 L518,390.59 L520,390.48 L522,390.38 L524,390.29 L526,390.21 L528,390.13 L530,390.07 L532,390.01 L534,389.97 L536,389.93 L538,389.9 L540,389.89 L542,389.88 L544,389.88 L546,389.9 L548,389.92 L550,389.96 L552,390 L554,390.06 L556,390.12 L558,390.2 L560,390.29 L562,390.39 L564,390.5 L566,390.62 L568,390.76 L570,390.9 L572,391.06 L574,391.23 L576,391.41 L578,391.61 L580,391.82 L582,392.04 L584,392.28 L586,392.54 L588,392.81 L590,393.1 L592,393.41 L594,393.73 L596,394.08 L598,394.44 L600,394.82 L602,395.22 L604,395.64 L606,396.09 L608,396.55 L610,397.04 L612,397.55 L614,398.08 L616,398.64 L618,399.22 L620,399.83 L622,400.46 L624,401.12 L626,401.8 L628,402.51 L630,403.25 L632,404.02 L634,404.81 L636,405.64 L638,406.5 L640,407.39 L642,408.32 L644,409.29 L646,410.29 L648,411.34 L650,412.43 L652,413.56 L654,414.73 L656,415.96 L658,417.23 L660,418.55 L662,419.93 L664,421.36 L666,422.84" fill="none" stroke="#ffa500" stroke-width="1.12" stroke-dasharray="1.6 3.4"/>
<circle cx="404" cy="407.6" r="4.3" fill="#ffa500"/>
<circle cx="428" cy="404" r="4.3" fill="#ffa500"/>
<circle cx="458.2" cy="397.8" r="4.3" fill="#ffa500"/>
<circle cx="492.4" cy="392" r="4.3" fill="#ffa500"/>
<circle cx="530.5" cy="389.4" r="4.3" fill="#ffa500"/>
<circle cx="568" cy="391.6" r="4.3" fill="#ffa500"/>
<circle cx="601" cy="395.4" r="4.3" fill="#ffa500"/>
<circle cx="630.6" cy="403.4" r="4.3" fill="#ffa500"/>
<circle cx="653" cy="413" r="4.3" fill="#ffa500"/>
<circle cx="666" cy="423.6" r="4.3" fill="#ffa500"/>
<circle cx="656.6" cy="428" r="3.6" fill="none" stroke="#ffa500" stroke-width="1.5"/>
<circle cx="646.6" cy="432.4" r="3.6" fill="none" stroke="#ffa500" stroke-width="1.5"/>
</g>
</g>
<g id="axes" stroke="#4d4d4d" stroke-width="1" fill="none">
<rect x="69.5" y="1.2" width="614.0" height="484.3"/>
<path d="M112.48,485.5 v-3.4 M112.48,1.2 v3.4 M137.62,485.5 v-3.4 M137.62,1.2 v3.4 M155.46,485.5 v-3.4 M155.46,1.2 v3.4 M169.3,485.5 v-3.4 M169.3,1.2 v3.4 M180.6,485.5 v-3.4 M180.6,1.2 v3.4 M190.16,485.5 v-3.4 M190.16,1.2 v3.4 M198.44,485.5 v-3.4 M198.44,1.2 v3.4 M205.74,485.5 v-3.4 M205.74,1.2 v3.4 M212.28,485.5 v-6.6 M212.28,1.2 v6.6 M255.25,485.5 v-3.4 M255.25,1.2 v3.4 M280.4,485.5 v-3.4 M280.4,1.2 v3.4 M298.23,485.5 v-3.4 M298.23,1.2 v3.4 M312.07,485.5 v-3.4 M312.07,1.2 v3.4 M323.38,485.5 v-3.4 M323.38,1.2 v3.4 M332.93,485.5 v-3.4 M332.93,1.2 v3.4 M341.21,485.5 v-3.4 M341.21,1.2 v3.4 M348.52,485.5 v-3.4 M348.52,1.2 v3.4 M355.05,485.5 v-6.6 M355.05,1.2 v6.6 M398.03,485.5 v-3.4 M398.03,1.2 v3.4 M423.17,485.5 v-3.4 M423.17,1.2 v3.4 M441.01,485.5 v-3.4 M441.01,1.2 v3.4 M454.85,485.5 v-3.4 M454.85,1.2 v3.4 M466.15,485.5 v-3.4 M466.15,1.2 v3.4 M475.71,485.5 v-3.4 M475.71,1.2 v3.4 M483.99,485.5 v-3.4 M483.99,1.2 v3.4 M491.29,485.5 v-3.4 M491.29,1.2 v3.4 M497.83,485.5 v-6.6 M497.83,1.2 v6.6 M540.8,485.5 v-3.4 M540.8,1.2 v3.4 M565.95,485.5 v-3.4 M565.95,1.2 v3.4 M583.78,485.5 v-3.4 M583.78,1.2 v3.4 M597.62,485.5 v-3.4 M597.62,1.2 v3.4 M608.93,485.5 v-3.4 M608.93,1.2 v3.4 M618.48,485.5 v-3.4 M618.48,1.2 v3.4 M626.76,485.5 v-3.4 M626.76,1.2 v3.4 M634.07,485.5 v-3.4 M634.07,1.2 v3.4 M640.6,485.5 v-6.6 M640.6,1.2 v6.6 M69.5,350.5 h6.3 M683.5,350.5 h-6.3 M69.5,216.5 h6.3 M683.5,216.5 h-6.3 M69.5,81.5 h6.3 M683.5,81.5 h-6.3"/>
</g>
<g id="ticklabels" font-size="21">
<text transform="translate(79.0,514.4) scale(1,1.05)" text-anchor="end">0.1</text>
<text transform="translate(207.6,514.4) scale(1,1.05)" text-anchor="end">1</text>
<text transform="translate(360.6,514.4) scale(1,1.05)" text-anchor="end">10</text>
<text transform="translate(514.5,514.4) scale(1,1.05)" text-anchor="end">100</text>
<text transform="translate(664.0,514.4) scale(1,1.05)" text-anchor="end">1000</text>
<text transform="translate(61.2,494.2) scale(1,1.05)" text-anchor="end">0</text>
<text transform="translate(61.2,359.8) scale(1,1.05)" text-anchor="end">5</text>
<text transform="translate(61.2,225.2) scale(1,1.05)" text-anchor="end">10</text>
<text transform="translate(61.2,90.6) scale(1,1.05)" text-anchor="end">15</text>
</g>
<g id="xlabel" font-size="23"><text x="303.4" y="545.6" letter-spacing="0.3">LET (keV/</text><text transform="translate(407.4,545.6) scale(1.36,1)" style="font-family:'Liberation Serif','DejaVu Serif',serif;font-style:italic" font-size="22">μ</text><text x="422" y="545.6" letter-spacing="0.7">m)</text></g>
<g id="ylabel" transform="translate(28,359.6) rotate(-90)" font-size="23"><text x="0" y="0" letter-spacing="0.08">DSB sites (Gy</text><text x="147.2" y="-12" font-size="17.5">-1</text><text x="163.1" y="0" letter-spacing="0.75">Gbp</text><text x="208.3" y="-12" font-size="17.5">-1</text><text x="225.5" y="0">)</text></g>
<g id="legend">
<rect x="81" y="12.5" width="231" height="79" fill="#fff" stroke="#4d4d4d" stroke-width="1"/>
<rect x="101.6" y="22.4" width="9.4" height="9.4" fill="#ff0000"/>
<text x="131" y="34.7" font-size="18.8">H</text>
<rect x="101.6" y="47.6" width="9.4" height="9.4" fill="#00ff00"/>
<text x="131" y="59.9" font-size="18.8">He</text>
<rect x="101.6" y="72.4" width="9.4" height="9.4" fill="#0000ff"/>
<text x="131" y="84.7" font-size="18.8">Li</text>
<rect x="178.5" y="22.4" width="9.4" height="9.4" fill="#ffff00"/>
<text x="207.4" y="34.7" font-size="18.8">Be</text>
<rect x="178.5" y="47.6" width="9.4" height="9.4" fill="#ff00ff"/>
<text x="207.4" y="59.9" font-size="18.8">B</text>
<rect x="178.5" y="72.4" width="9.4" height="9.4" fill="#00ffff"/>
<text x="207.4" y="84.7" font-size="18.8">C</text>
<rect x="253.4" y="22.4" width="9.4" height="9.4" fill="#800000"/>
<text x="283.0" y="34.7" font-size="18.8">N</text>
<rect x="253.4" y="47.6" width="9.4" height="9.4" fill="#008000"/>
<text x="283.0" y="59.9" font-size="18.8">O</text>
<rect x="253.4" y="72.4" width="9.4" height="9.4" fill="#ffa500"/>
<text x="283.0" y="84.7" font-size="18.8">Ne</text>
</g>
</svg></body></html>
